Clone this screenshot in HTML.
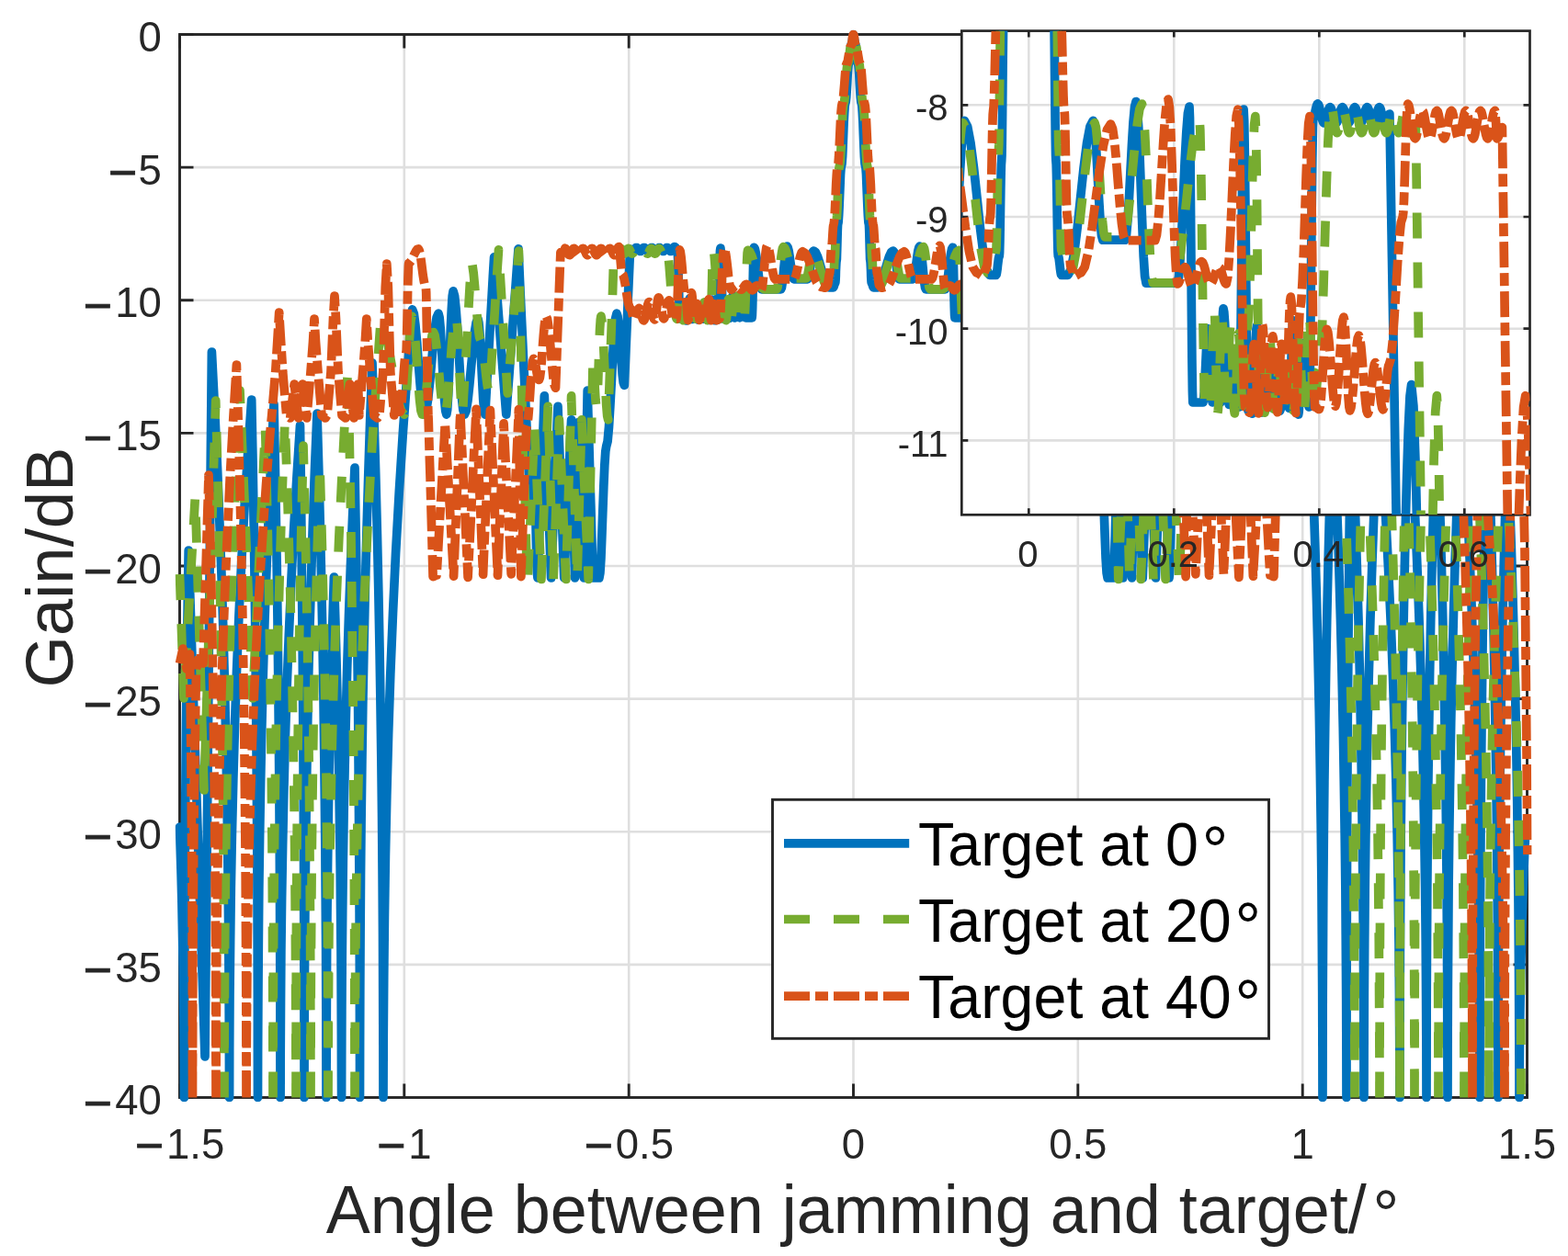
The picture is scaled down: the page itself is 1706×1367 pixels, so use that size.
<!DOCTYPE html>
<html><head><meta charset="utf-8"><title>Gain plot</title>
<style>html,body{margin:0;padding:0;background:#fff;}svg{display:block;}</style>
</head><body>
<svg width="1706" height="1367" viewBox="0 0 1706 1367">
<rect width="1706" height="1367" fill="#fff"/>
<defs>
<clipPath id="cm"><rect x="190.5" y="32.5" width="1476.0" height="1167.0"/></clipPath>
<clipPath id="ci"><rect x="1046.3" y="33.6" width="618.2" height="526.6999999999999"/></clipPath>
</defs>
<path d="M439.8 37.5V1194.5M684.2 37.5V1194.5M928.5 37.5V1194.5M1172.8 37.5V1194.5M1417.2 37.5V1194.5M195.5 182.1H1661.5M195.5 326.8H1661.5M195.5 471.4H1661.5M195.5 616.0H1661.5M195.5 760.6H1661.5M195.5 905.2H1661.5M195.5 1049.9H1661.5" stroke="#dfdfdf" stroke-width="2.6" fill="none"/>
<path d="M195.5 1194.5v-15M195.5 37.5v15M439.8 1194.5v-15M439.8 37.5v15M684.2 1194.5v-15M684.2 37.5v15M928.5 1194.5v-15M928.5 37.5v15M1172.8 1194.5v-15M1172.8 37.5v15M1417.2 1194.5v-15M1417.2 37.5v15M1661.5 1194.5v-15M1661.5 37.5v15M195.5 37.5h15M1661.5 37.5h-15M195.5 182.1h15M1661.5 182.1h-15M195.5 326.8h15M1661.5 326.8h-15M195.5 471.4h15M1661.5 471.4h-15M195.5 616.0h15M1661.5 616.0h-15M195.5 760.6h15M1661.5 760.6h-15M195.5 905.2h15M1661.5 905.2h-15M195.5 1049.9h15M1661.5 1049.9h-15M195.5 1194.5h15M1661.5 1194.5h-15" stroke="#262626" stroke-width="2.9" fill="none"/>
<rect x="195.5" y="37.5" width="1466.0" height="1157.0" stroke="#262626" stroke-width="2.9" fill="none"/>
<g font-family="Liberation Sans, Arial, Helvetica, sans-serif" font-size="45.5" fill="#262626">
<text x="175.8" y="56.1" text-anchor="end">0</text>
<text x="175.8" y="200.7" text-anchor="end"><tspan font-size="53.5" dy="5.4" stroke="#262626" stroke-width="0.9">−</tspan><tspan dx="1.5" dy="-5.4">5</tspan></text>
<text x="175.8" y="345.4" text-anchor="end"><tspan font-size="53.5" dy="5.4" stroke="#262626" stroke-width="0.9">−</tspan><tspan dx="3.5" dy="-5.4">10</tspan></text>
<text x="175.8" y="490.0" text-anchor="end"><tspan font-size="53.5" dy="5.4" stroke="#262626" stroke-width="0.9">−</tspan><tspan dx="3.5" dy="-5.4">15</tspan></text>
<text x="175.8" y="634.6" text-anchor="end"><tspan font-size="53.5" dy="5.4" stroke="#262626" stroke-width="0.9">−</tspan><tspan dx="3.5" dy="-5.4">20</tspan></text>
<text x="175.8" y="779.2" text-anchor="end"><tspan font-size="53.5" dy="5.4" stroke="#262626" stroke-width="0.9">−</tspan><tspan dx="3.5" dy="-5.4">25</tspan></text>
<text x="175.8" y="923.9" text-anchor="end"><tspan font-size="53.5" dy="5.4" stroke="#262626" stroke-width="0.9">−</tspan><tspan dx="3.5" dy="-5.4">30</tspan></text>
<text x="175.8" y="1068.5" text-anchor="end"><tspan font-size="53.5" dy="5.4" stroke="#262626" stroke-width="0.9">−</tspan><tspan dx="3.5" dy="-5.4">35</tspan></text>
<text x="175.8" y="1213.1" text-anchor="end"><tspan font-size="53.5" dy="5.4" stroke="#262626" stroke-width="0.9">−</tspan><tspan dx="3.5" dy="-5.4">40</tspan></text>
<text x="195.5" y="1260.5" text-anchor="middle"><tspan font-size="53.5" dy="4.7" stroke="#262626" stroke-width="0.9">−</tspan><tspan dx="3" dy="-4.7">1.5</tspan></text>
<text x="439.8" y="1260.5" text-anchor="middle"><tspan font-size="53.5" dy="4.7" stroke="#262626" stroke-width="0.9">−</tspan><tspan dx="3" dy="-4.7">1</tspan></text>
<text x="684.2" y="1260.5" text-anchor="middle"><tspan font-size="53.5" dy="4.7" stroke="#262626" stroke-width="0.9">−</tspan><tspan dx="3" dy="-4.7">0.5</tspan></text>
<text x="928.5" y="1260.5" text-anchor="middle">0</text>
<text x="1172.8" y="1260.5" text-anchor="middle">0.5</text>
<text x="1417.2" y="1260.5" text-anchor="middle">1</text>
<text x="1661.5" y="1260.5" text-anchor="middle">1.5</text>
</g>
<text transform="translate(354.8 1342.1) scale(0.9594 1)" font-family="Liberation Sans, Arial, Helvetica, sans-serif" font-size="75" fill="#262626">Angle between jamming and target/<tspan dx="7" dy="4.5">°</tspan></text>
<text transform="translate(78.8 617.5) rotate(-90)" text-anchor="middle" font-family="Liberation Sans, Arial, Helvetica, sans-serif" font-size="72.5" fill="#262626">Gain/dB</text>
<g clip-path="url(#cm)" fill="none">
<path d="M195.5 900.0 196.3 925.9 197.1 951.7 197.8 977.6 198.3 1003.4 198.8 1029.3 199.3 1055.1 199.6 1081.0 199.9 1106.9 200.1 1132.7 200.3 1158.6 200.4 1184.4 200.4 1194.5M200.5 1194.5 200.5 1167.3 200.6 1119.9 200.7 1072.6 200.9 1025.2 201.1 977.9 201.3 930.5 201.7 883.1 202.1 835.8 202.5 788.4 203.1 741.1 203.7 693.7 204.4 646.4 205.2 599.0 223.0 1150.0 230.4 383.0 233.6 445.8 236.5 508.6 239.0 571.4 241.3 634.1 243.2 696.9 244.8 759.7 246.1 822.5 247.2 885.3 248.0 948.1 248.7 1010.9 249.1 1073.6 249.4 1136.4 249.5 1194.5M249.6 1194.5 249.7 1143.9 250.0 1084.8 250.6 1025.7 251.3 966.6 252.4 907.6 253.8 848.5 255.5 789.4 257.5 730.4 259.9 671.3 262.7 612.2 266.0 553.1 269.6 494.1 273.7 435.0 274.9 494.1 275.9 553.1 276.8 612.2 277.6 671.3 278.2 730.4 278.8 789.4 279.3 848.5 279.7 907.6 280.0 966.6 280.2 1025.7 280.4 1084.8 280.4 1143.9 280.5 1194.5M280.5 1194.5 280.6 1144.6 280.9 1085.9 281.3 1027.1 281.8 968.4 282.6 909.7 283.6 851.0 284.8 792.3 286.3 733.6 288.0 674.9 290.1 616.1 292.4 557.4 295.0 498.7 298.0 440.0 299.2 498.7 300.2 557.4 301.2 616.1 302.0 674.9 302.7 733.6 303.3 792.3 303.8 851.0 304.2 909.7 304.5 968.4 304.7 1027.1 304.9 1085.9 304.9 1144.6 305.0 1194.5M305.1 1194.5 305.2 1147.9 305.5 1090.8 305.9 1033.7 306.6 976.6 307.6 919.6 308.8 862.5 310.3 805.4 312.1 748.4 314.3 691.3 316.8 634.2 319.6 577.1 322.9 520.1 326.5 463.0 327.3 520.1 327.9 577.1 328.5 634.2 329.1 691.3 329.5 748.4 329.9 805.4 330.2 862.5 330.5 919.6 330.7 976.6 330.8 1033.7 330.9 1090.8 331.0 1147.9 331.0 1194.5M331.0 1194.5 331.1 1146.0 331.3 1088.0 331.6 1030.0 332.1 972.0 332.7 914.0 333.5 856.0 334.5 798.0 335.6 740.0 337.0 682.0 338.7 624.0 340.5 566.0 342.6 508.0 345.0 450.0 346.7 508.0 348.2 566.0 349.5 624.0 350.7 682.0 351.7 740.0 352.5 798.0 353.2 856.0 353.8 914.0 354.2 972.0 354.6 1030.0 354.8 1088.0 354.9 1146.0 355.0 1194.5M355.0 1194.5 355.1 1171.4 355.2 1126.1 355.4 1080.9 355.6 1035.6 356.0 990.3 356.5 945.0 357.1 899.7 357.8 854.4 358.6 809.1 359.6 763.9 360.7 718.6 362.0 673.3 363.4 628.0 364.8 673.3 366.0 718.6 367.1 763.9 368.1 809.1 368.9 854.4 369.6 899.7 370.2 945.0 370.6 990.3 371.0 1035.6 371.2 1080.9 371.4 1126.1 371.5 1171.4 371.6 1194.5M371.6 1194.5 371.7 1154.4 371.9 1100.6 372.2 1046.9 372.7 993.1 373.3 939.3 374.1 885.5 375.2 831.7 376.4 777.9 377.8 724.1 379.5 670.4 381.4 616.6 383.6 562.8 386.0 509.0 386.9 562.8 387.8 616.6 388.5 670.4 389.1 724.1 389.7 777.9 390.1 831.7 390.5 885.5 390.8 939.3 391.1 993.1 391.3 1046.9 391.4 1100.6 391.5 1154.4 391.5 1194.5M391.5 1194.5 391.6 1138.1 391.8 1076.2 392.1 1014.3 392.5 952.4 393.1 890.4 393.9 828.5 394.8 766.6 396.0 704.6 397.3 642.7 398.9 580.8 400.7 518.9 402.7 456.9 405.0 395.0 407.0 456.9 408.8 518.9 410.4 580.8 411.8 642.7 413.0 704.6 414.0 766.6 414.9 828.5 415.6 890.4 416.1 952.4 416.5 1014.3 416.7 1076.2 416.9 1138.1 417.0 1194.5M417.0 1194.5 417.2 1129.9 417.7 1063.8 418.4 997.7 419.4 931.6 420.8 865.6 422.6 799.5 424.8 733.4 427.5 667.4 430.6 601.3 434.3 535.2 438.5 469.1 443.3 403.1 448.6 336.9 450.3 341.2 451.9 353.6 453.6 372.1 455.2 394.0 456.9 415.9 458.5 434.4 460.2 446.8 461.8 451.1 463.7 446.9 465.6 435.0 467.5 417.2 469.4 396.2 471.3 375.1 473.2 357.3 475.1 345.4 477.0 341.2 478.1 345.4 479.2 357.3 480.3 375.1 481.4 396.2 482.5 417.2 483.6 435.0 484.7 446.9 485.8 451.1 486.7 446.0 487.6 431.5 488.5 409.7 489.4 384.0 490.3 358.3 491.3 336.6 492.2 322.0 493.1 316.9 494.6 322.0 496.1 336.6 497.7 358.3 499.2 384.0 500.7 409.7 502.3 431.5 503.8 446.0 505.3 451.1 507.1 447.2 509.0 435.9 510.8 419.0 512.6 399.1 514.5 379.1 516.3 362.2 518.1 351.0 520.0 347.0 520.9 351.0 521.9 362.2 522.9 379.1 523.9 399.1 524.9 419.0 525.8 435.9 526.8 447.2 527.8 451.1 529.0 429.7 530.2 408.3 531.5 386.9 532.7 365.5 533.9 344.1 535.1 322.7 536.3 301.3 537.6 279.9 539.2 301.3 540.9 322.7 542.5 344.1 544.2 365.5 545.8 386.9 547.5 408.3 549.1 429.7 550.8 451.1 552.4 428.6 554.1 406.1 555.7 383.6 557.4 361.0 559.0 338.5 560.7 316.0 562.3 293.5 564.0 270.9 565.5 305.0 567.1 339.1 568.7 373.2 570.3 407.3 571.9 441.4 573.5 475.5 575.1 509.6 576.7 543.7 577.1 541.5 577.6 535.2 578.1 525.8 578.6 514.8 579.1 503.7 579.6 494.3 580.1 488.0 580.6 485.8 581.1 491.3 581.7 506.8 582.2 530.0 582.8 557.4 583.3 584.8 583.9 608.0 584.4 623.6 585.0 629.0 585.9 604.2 586.8 579.5 587.7 554.7 588.6 529.9 589.5 505.2 590.5 480.4 591.4 455.6 592.3 430.9 593.2 455.6 594.1 480.4 595.0 505.2 596.0 529.9 596.9 554.7 597.8 579.5 598.7 604.2 599.6 629.0 600.5 605.7 601.5 582.4 602.4 559.1 603.3 535.7 604.2 512.4 605.1 489.1 606.0 465.8 607.0 442.4 607.8 465.8 608.7 489.1 609.5 512.4 610.4 535.7 611.2 559.1 612.1 582.4 612.9 605.7 613.8 629.0 614.8 607.5 615.8 586.0 616.7 564.5 617.7 543.0 618.7 521.5 619.7 499.9 620.6 478.4 621.6 456.9 622.1 478.4 622.6 499.9 623.1 521.5 623.6 543.0 624.1 564.5 624.5 586.0 625.0 607.5 625.5 629.0 626.0 607.9 626.4 586.7 626.8 565.6 627.2 544.4 627.7 523.3 628.1 502.1 628.5 481.0 628.9 459.8 629.7 481.0 630.5 502.1 631.3 523.3 632.1 544.4 632.9 565.6 633.7 586.7 634.5 607.9 635.3 629.0 635.8 603.5 636.3 578.0 636.8 552.5 637.3 527.1 637.7 501.6 638.2 476.1 638.7 450.6 639.2 425.1 639.9 450.6 640.7 476.1 641.4 501.6 642.1 527.1 642.9 552.5 643.6 578.0 644.3 603.5 645.1 629.0 645.9 629.0 646.8 629.0 647.6 629.0 648.5 629.0 649.3 629.0 650.2 629.0 651.1 629.0 651.9 629.0 652.9 623.6 653.9 608.0 654.8 584.8 655.8 557.4 656.8 530.0 657.8 506.8 658.8 491.3 659.7 485.8 661.1 480.3 662.5 464.7 663.9 441.2 665.4 413.5 666.8 385.9 668.2 362.4 669.6 346.7 671.0 341.2 672.0 344.2 673.0 352.6 674.1 365.3 675.1 380.3 676.2 395.2 677.2 407.9 678.2 416.3 679.3 419.3 680.1 400.8 680.9 382.3 681.7 363.8 682.5 345.3 683.2 326.8 684.0 308.2 684.8 289.7 685.6 271.2 686.1 271.3 686.5 271.6 686.9 271.9 687.3 272.4 687.8 272.8 688.2 273.2 688.6 273.4 689.1 273.5 689.5 273.4 689.9 272.9 690.3 272.3 690.8 271.5 691.2 270.7 691.6 270.1 692.0 269.6 692.5 269.5 693.0 269.6 693.5 270.1 694.0 270.7 694.5 271.5 695.1 272.3 695.6 272.9 696.1 273.4 696.6 273.5 697.1 273.4 697.7 272.9 698.2 272.3 698.7 271.5 699.2 270.7 699.7 270.1 700.3 269.6 700.8 269.5 701.3 269.6 701.8 270.1 702.3 270.7 702.9 271.5 703.4 272.3 703.9 272.9 704.4 273.4 704.9 273.5 705.5 273.4 706.0 272.9 706.5 272.3 707.0 271.5 707.5 270.7 708.0 270.1 708.6 269.6 709.1 269.5 709.6 269.6 710.1 270.1 710.6 270.7 711.2 271.5 711.7 272.3 712.2 272.9 712.7 273.4 713.2 273.5 713.8 273.4 714.3 272.9 714.8 272.3 715.3 271.5 715.8 270.7 716.4 270.1 716.9 269.6 717.4 269.5 717.9 269.6 718.4 270.1 719.0 270.7 719.5 271.5 720.0 272.3 720.5 272.9 721.0 273.4 721.5 273.5 722.1 273.4 722.6 272.9 723.1 272.3 723.6 271.5 724.1 270.7 724.7 270.1 725.2 269.6 725.7 269.5 726.2 269.6 726.7 270.1 727.3 270.7 727.8 271.5 728.3 272.3 728.8 272.9 729.3 273.4 729.9 273.5 730.4 273.3 730.9 272.8 731.4 272.0 731.9 271.1 732.5 270.1 733.0 269.3 733.5 268.8 734.0 268.6 734.4 268.7 734.7 269.1 735.1 269.6 735.5 270.2 735.8 270.8 736.2 271.3 736.6 271.7 736.9 271.8 737.3 274.7 737.7 282.8 738.0 295.0 738.4 309.4 738.8 323.8 739.1 336.0 739.5 344.1 739.9 347.0 740.5 346.4 741.1 344.6 741.6 341.9 742.2 338.7 742.8 335.6 743.4 332.9 744.0 331.1 744.6 330.5 744.9 331.2 745.2 333.2 745.5 336.2 745.8 339.7 746.1 343.3 746.4 346.2 746.7 348.2 747.0 349.0 747.5 348.0 747.9 345.4 748.3 341.5 748.8 336.8 749.2 332.2 749.7 328.2 750.1 325.6 750.5 324.6 750.9 325.5 751.2 328.0 751.5 331.7 751.9 336.0 752.2 340.3 752.5 344.0 752.9 346.5 753.2 347.4 753.6 347.0 754.0 346.0 754.3 344.6 754.7 342.8 755.1 341.1 755.4 339.6 755.8 338.6 756.2 338.3 756.6 338.7 757.0 339.7 757.4 341.3 757.8 343.2 758.2 345.0 758.7 346.6 759.1 347.7 759.5 348.0 759.9 347.6 760.4 346.5 760.8 344.9 761.2 343.0 761.6 341.0 762.1 339.4 762.5 338.3 762.9 337.9 763.2 338.3 763.5 339.3 763.9 340.8 764.2 342.6 764.5 344.3 764.8 345.8 765.1 346.8 765.4 347.2 765.8 346.6 766.2 344.9 766.6 342.5 767.0 339.5 767.4 336.6 767.8 334.1 768.2 332.4 768.6 331.8 769.0 332.5 769.4 334.3 769.8 336.9 770.1 340.1 770.5 343.3 770.9 346.0 771.3 347.8 771.6 348.4 772.1 347.6 772.5 345.2 772.9 341.5 773.3 337.2 773.7 333.0 774.1 329.3 774.6 326.9 775.0 326.1 775.4 326.9 775.7 329.4 776.1 333.1 776.5 337.4 776.9 341.7 777.2 345.4 777.6 347.8 778.0 348.7 778.4 348.7 778.7 348.6 779.1 348.5 779.5 348.3 779.8 348.1 780.2 348.0 780.6 347.9 780.9 347.9 781.3 344.9 781.7 336.5 782.0 323.8 782.4 309.0 782.8 294.1 783.1 281.5 783.5 273.0 783.9 270.1 784.2 273.0 784.6 281.3 785.0 293.8 785.3 308.5 785.7 323.2 786.1 335.7 786.4 344.1 786.8 347.0 787.2 346.4 787.6 344.9 788.1 342.5 788.5 339.8 788.9 337.0 789.4 334.7 789.8 333.1 790.2 332.5 790.6 333.1 791.1 334.6 791.5 336.8 791.9 339.5 792.3 342.1 792.8 344.4 793.2 345.9 793.6 346.4 794.1 345.5 794.6 342.8 795.1 338.7 795.6 334.0 796.1 329.2 796.6 325.2 797.0 322.5 797.5 321.5 797.8 322.5 798.0 325.1 798.3 329.0 798.5 333.7 798.8 338.3 799.0 342.3 799.2 344.9 799.5 345.8 799.8 345.2 800.1 343.5 800.4 340.8 800.7 337.7 801.0 334.6 801.3 332.0 801.6 330.3 801.9 329.6 802.3 330.3 802.7 332.0 803.0 334.6 803.4 337.7 803.8 340.8 804.1 343.5 804.5 345.2 804.9 345.8 805.2 345.1 805.6 343.0 806.0 339.9 806.3 336.3 806.7 332.6 807.1 329.5 807.4 327.5 807.8 326.8 808.2 327.5 808.7 329.5 809.1 332.6 809.5 336.3 809.9 339.9 810.4 343.0 810.8 345.1 811.2 345.8 812.1 345.8 812.9 345.8 813.8 345.8 814.6 345.8 815.5 345.8 816.4 345.8 817.2 345.8 818.1 345.8 818.4 342.9 818.7 334.6 819.0 322.2 819.2 307.6 819.5 292.9 819.8 280.5 820.1 272.2 820.4 269.3 821.4 271.0 822.4 276.0 823.5 283.4 824.5 292.1 825.5 300.9 826.5 308.3 827.5 313.2 828.5 315.0 831.1 315.0 833.7 315.0 836.4 315.0 839.0 315.0 841.6 315.0 844.3 315.0 846.9 315.0 849.5 315.0 850.4 313.2 851.2 308.1 852.1 300.5 852.9 291.5 853.8 282.5 854.6 274.9 855.5 269.8 856.3 268.0 857.2 269.4 858.2 273.2 859.1 279.1 860.0 285.9 861.0 292.8 861.9 298.6 862.8 302.5 863.7 303.8 865.6 303.8 867.5 303.8 869.3 303.8 871.2 303.8 873.1 303.8 875.0 303.8 876.8 303.8 878.7 303.8 879.5 302.6 880.3 299.3 881.1 294.3 882.0 288.4 882.8 282.5 883.6 277.5 884.4 274.1 885.2 273.0 887.3 274.5 889.4 278.8 891.5 285.3 893.7 292.9 895.8 300.5 897.9 307.0 900.0 311.3 902.1 312.9 902.7 312.9 903.2 312.9 903.8 312.9 904.3 312.9 904.9 312.9 905.4 312.9 906.0 312.9 906.5 312.9 906.8 312.7 907.1 312.1 907.3 311.3 907.6 310.4 907.9 309.5 908.2 308.7 908.4 308.1 908.7 307.9 908.9 307.0 909.1 304.3 909.3 300.4 909.4 295.7 909.6 291.0 909.8 287.0 910.0 284.3 910.2 283.4 910.4 281.9 910.5 277.6 910.7 271.3 910.9 263.8 911.1 256.4 911.3 250.0 911.5 245.8 911.6 244.3 912.1 241.9 912.6 235.0 913.1 224.7 913.6 212.5 914.1 200.3 914.5 190.0 915.0 183.1 915.5 180.7 916.0 178.1 916.6 170.7 917.1 159.7 917.6 146.7 918.1 133.7 918.7 122.7 919.2 115.3 919.7 112.7 920.2 111.0 920.7 106.3 921.2 99.2 921.7 90.9 922.1 82.5 922.6 75.4 923.1 70.7 923.6 69.0 924.0 68.2 924.3 65.9 924.7 62.4 925.1 58.3 925.4 54.2 925.8 50.8 926.2 48.4 926.5 47.6 926.8 47.2 927.0 46.1 927.3 44.5 927.5 42.6 927.8 40.6 928.0 39.0 928.3 37.9 928.5 37.5 928.7 37.9 929.0 39.0 929.2 40.6 929.5 42.6 929.7 44.5 930.0 46.1 930.2 47.2 930.5 47.6 930.8 48.4 931.2 50.8 931.6 54.2 931.9 58.3 932.3 62.4 932.7 65.9 933.0 68.2 933.4 69.0 933.9 70.7 934.4 75.4 934.9 82.5 935.3 90.9 935.8 99.2 936.3 106.3 936.8 111.0 937.3 112.7 937.8 115.3 938.3 122.7 938.9 133.7 939.4 146.7 939.9 159.7 940.4 170.7 941.0 178.1 941.5 180.7 942.0 183.1 942.5 190.0 942.9 200.3 943.4 212.5 943.9 224.7 944.4 235.0 944.9 241.9 945.4 244.3 945.5 245.8 945.7 250.0 945.9 256.4 946.1 263.8 946.3 271.3 946.5 277.6 946.6 281.9 946.8 283.4 947.0 284.3 947.2 287.0 947.4 291.0 947.6 295.7 947.7 300.4 947.9 304.3 948.1 307.0 948.3 307.9 948.6 308.1 948.8 308.7 949.1 309.5 949.4 310.4 949.7 311.3 949.9 312.1 950.2 312.7 950.5 312.9 951.0 312.9 951.6 312.9 952.1 312.9 952.7 312.9 953.2 312.9 953.8 312.9 954.3 312.9 954.9 312.9 957.0 311.3 959.1 307.0 961.2 300.5 963.3 292.9 965.5 285.3 967.6 278.8 969.7 274.5 971.8 273.0 972.6 274.1 973.4 277.5 974.2 282.5 975.0 288.4 975.9 294.3 976.7 299.3 977.5 302.6 978.3 303.8 980.2 303.8 982.0 303.8 983.9 303.8 985.8 303.8 987.7 303.8 989.5 303.8 991.4 303.8 993.3 303.8 994.2 302.5 995.1 298.6 996.0 292.8 997.0 285.9 997.9 279.1 998.8 273.2 999.8 269.4 1000.7 268.0 1001.5 269.8 1002.4 274.9 1003.2 282.5 1004.1 291.5 1004.9 300.5 1005.8 308.1 1006.6 313.2 1007.5 315.0 1010.1 315.0 1012.7 315.0 1015.4 315.0 1018.0 315.0 1020.6 315.0 1023.3 315.0 1025.9 315.0 1028.5 315.0 1029.5 313.2 1030.5 308.3 1031.5 300.9 1032.5 292.1 1033.5 283.4 1034.6 276.0 1035.6 271.0 1036.6 269.3 1036.9 272.2 1037.2 280.5 1037.5 292.9 1037.8 307.6 1038.0 322.2 1038.3 334.6 1038.6 342.9 1038.9 345.8 1039.8 345.8 1040.6 345.8 1041.5 345.8 1042.4 345.8 1043.2 345.8 1044.1 345.8 1044.9 345.8 1045.8 345.8 1046.2 345.1 1046.6 343.0 1047.1 339.9 1047.5 336.3 1047.9 332.6 1048.3 329.5 1048.8 327.5 1049.2 326.8 1049.6 327.5 1049.9 329.5 1050.3 332.6 1050.7 336.3 1051.0 339.9 1051.4 343.0 1051.8 345.1 1052.1 345.8 1052.5 345.2 1052.9 343.5 1053.2 340.8 1053.6 337.7 1054.0 334.6 1054.3 332.0 1054.7 330.3 1055.1 329.6 1055.4 330.3 1055.7 332.0 1056.0 334.6 1056.3 337.7 1056.6 340.8 1056.9 343.5 1057.2 345.2 1057.5 345.8 1057.8 344.9 1058.0 342.3 1058.2 338.3 1058.5 333.7 1058.7 329.0 1059.0 325.1 1059.2 322.5 1059.5 321.5 1060.0 322.5 1060.4 325.2 1060.9 329.2 1061.4 334.0 1061.9 338.7 1062.4 342.8 1062.9 345.5 1063.4 346.4 1063.8 345.9 1064.2 344.4 1064.7 342.1 1065.1 339.5 1065.5 336.8 1065.9 334.6 1066.4 333.1 1066.8 332.5 1067.2 333.1 1067.6 334.7 1068.1 337.0 1068.5 339.8 1068.9 342.5 1069.4 344.9 1069.8 346.4 1070.2 347.0 1070.6 344.1 1070.9 335.7 1071.3 323.2 1071.7 308.5 1072.0 293.8 1072.4 281.3 1072.8 273.0 1073.1 270.1 1073.5 273.0 1073.9 281.5 1074.2 294.1 1074.6 309.0 1075.0 323.8 1075.3 336.5 1075.7 344.9 1076.1 347.9 1076.4 347.9 1076.8 348.0 1077.2 348.1 1077.5 348.3 1077.9 348.5 1078.3 348.6 1078.6 348.7 1079.0 348.7 1079.4 347.8 1079.8 345.4 1080.1 341.7 1080.5 337.4 1080.9 333.1 1081.3 329.4 1081.6 326.9 1082.0 326.1 1082.4 326.9 1082.9 329.3 1083.3 333.0 1083.7 337.2 1084.1 341.5 1084.5 345.2 1084.9 347.6 1085.4 348.4 1085.7 347.8 1086.1 346.0 1086.5 343.3 1086.9 340.1 1087.2 336.9 1087.6 334.3 1088.0 332.5 1088.4 331.8 1088.8 332.4 1089.2 334.1 1089.6 336.6 1090.0 339.5 1090.4 342.5 1090.8 344.9 1091.2 346.6 1091.6 347.2 1091.9 346.8 1092.2 345.8 1092.5 344.3 1092.8 342.6 1093.1 340.8 1093.5 339.3 1093.8 338.3 1094.1 337.9 1094.5 338.3 1094.9 339.4 1095.4 341.0 1095.8 343.0 1096.2 344.9 1096.6 346.5 1097.1 347.6 1097.5 348.0 1097.9 347.7 1098.3 346.6 1098.8 345.0 1099.2 343.2 1099.6 341.3 1100.0 339.7 1100.4 338.7 1100.8 338.3 1101.2 338.6 1101.6 339.6 1101.9 341.1 1102.3 342.8 1102.7 344.6 1103.0 346.0 1103.4 347.0 1103.8 347.4 1104.1 346.5 1104.5 344.0 1104.8 340.3 1105.1 336.0 1105.5 331.7 1105.8 328.0 1106.1 325.5 1106.5 324.6 1106.9 325.6 1107.3 328.2 1107.8 332.2 1108.2 336.8 1108.7 341.5 1109.1 345.4 1109.5 348.0 1110.0 349.0 1110.3 348.2 1110.6 346.2 1110.9 343.3 1111.2 339.7 1111.5 336.2 1111.8 333.2 1112.1 331.2 1112.4 330.5 1113.0 331.1 1113.6 332.9 1114.2 335.6 1114.8 338.7 1115.4 341.9 1115.9 344.6 1116.5 346.4 1117.1 347.0 1117.5 344.1 1117.9 336.0 1118.2 323.8 1118.6 309.4 1119.0 295.0 1119.3 282.8 1119.7 274.7 1120.1 271.8 1120.4 271.7 1120.8 271.3 1121.2 270.8 1121.5 270.2 1121.9 269.6 1122.3 269.1 1122.6 268.7 1123.0 268.6 1123.5 268.8 1124.0 269.3 1124.5 270.1 1125.1 271.1 1125.6 272.0 1126.1 272.8 1126.6 273.3 1127.1 273.5 1127.7 273.4 1128.2 272.9 1128.7 272.3 1129.2 271.5 1129.7 270.7 1130.3 270.1 1130.8 269.6 1131.3 269.5 1131.8 269.6 1132.3 270.1 1132.9 270.7 1133.4 271.5 1133.9 272.3 1134.4 272.9 1134.9 273.4 1135.5 273.5 1136.0 273.4 1136.5 272.9 1137.0 272.3 1137.5 271.5 1138.0 270.7 1138.6 270.1 1139.1 269.6 1139.6 269.5 1140.1 269.6 1140.6 270.1 1141.2 270.7 1141.7 271.5 1142.2 272.3 1142.7 272.9 1143.2 273.4 1143.8 273.5 1144.3 273.4 1144.8 272.9 1145.3 272.3 1145.8 271.5 1146.4 270.7 1146.9 270.1 1147.4 269.6 1147.9 269.5 1148.4 269.6 1149.0 270.1 1149.5 270.7 1150.0 271.5 1150.5 272.3 1151.0 272.9 1151.5 273.4 1152.1 273.5 1152.6 273.4 1153.1 272.9 1153.6 272.3 1154.1 271.5 1154.7 270.7 1155.2 270.1 1155.7 269.6 1156.2 269.5 1156.7 269.6 1157.3 270.1 1157.8 270.7 1158.3 271.5 1158.8 272.3 1159.3 272.9 1159.9 273.4 1160.4 273.5 1160.9 273.4 1161.4 272.9 1161.9 272.3 1162.5 271.5 1163.0 270.7 1163.5 270.1 1164.0 269.6 1164.5 269.5 1165.0 269.6 1165.4 270.1 1165.8 270.7 1166.2 271.5 1166.7 272.3 1167.1 272.9 1167.5 273.4 1167.9 273.5 1168.4 273.4 1168.8 273.2 1169.2 272.8 1169.7 272.4 1170.1 271.9 1170.5 271.6 1170.9 271.3 1171.4 271.2 1172.2 289.7 1173.0 308.2 1173.8 326.8 1174.5 345.3 1175.3 363.8 1176.1 382.3 1176.9 400.8 1177.7 419.3 1178.8 416.3 1179.8 407.9 1180.8 395.2 1181.9 380.3 1182.9 365.3 1184.0 352.6 1185.0 344.2 1186.0 341.2 1187.4 346.7 1188.8 362.4 1190.2 385.9 1191.6 413.5 1193.1 441.2 1194.5 464.7 1195.9 480.3 1197.3 485.8 1198.2 491.3 1199.2 506.8 1200.2 530.0 1201.2 557.4 1202.2 584.8 1203.1 608.0 1204.1 623.6 1205.1 629.0 1205.9 629.0 1206.8 629.0 1207.7 629.0 1208.5 629.0 1209.4 629.0 1210.2 629.0 1211.1 629.0 1211.9 629.0 1212.7 603.5 1213.4 578.0 1214.1 552.5 1214.9 527.1 1215.6 501.6 1216.3 476.1 1217.1 450.6 1217.8 425.1 1218.3 450.6 1218.8 476.1 1219.3 501.6 1219.7 527.1 1220.2 552.5 1220.7 578.0 1221.2 603.5 1221.7 629.0 1222.5 607.9 1223.3 586.7 1224.1 565.6 1224.9 544.4 1225.7 523.3 1226.5 502.1 1227.3 481.0 1228.1 459.8 1228.5 481.0 1228.9 502.1 1229.3 523.3 1229.8 544.4 1230.2 565.6 1230.6 586.7 1231.0 607.9 1231.5 629.0 1232.0 607.5 1232.5 586.0 1232.9 564.5 1233.4 543.0 1233.9 521.5 1234.4 499.9 1234.9 478.4 1235.4 456.9 1236.4 478.4 1237.3 499.9 1238.3 521.5 1239.3 543.0 1240.3 564.5 1241.2 586.0 1242.2 607.5 1243.2 629.0 1244.1 605.7 1244.9 582.4 1245.8 559.1 1246.6 535.7 1247.5 512.4 1248.3 489.1 1249.2 465.8 1250.0 442.4 1251.0 465.8 1251.9 489.1 1252.8 512.4 1253.7 535.7 1254.6 559.1 1255.5 582.4 1256.5 605.7 1257.4 629.0 1258.3 604.2 1259.2 579.5 1260.1 554.7 1261.0 529.9 1262.0 505.2 1262.9 480.4 1263.8 455.6 1264.7 430.9 1265.6 455.6 1266.5 480.4 1267.5 505.2 1268.4 529.9 1269.3 554.7 1270.2 579.5 1271.1 604.2 1272.0 629.0 1272.6 623.6 1273.1 608.0 1273.7 584.8 1274.2 557.4 1274.8 530.0 1275.3 506.8 1275.9 491.3 1276.4 485.8 1276.9 488.0 1277.4 494.3 1277.9 503.7 1278.4 514.8 1278.9 525.8 1279.4 535.2 1279.9 541.5 1280.3 543.7 1281.9 509.6 1283.5 475.5 1285.1 441.4 1286.7 407.3 1288.3 373.2 1289.9 339.1 1291.5 305.0 1293.0 270.9 1294.7 293.5 1296.3 316.0 1298.0 338.5 1299.6 361.0 1301.3 383.6 1302.9 406.1 1304.6 428.6 1306.2 451.1 1307.9 429.7 1309.5 408.3 1311.2 386.9 1312.8 365.5 1314.5 344.1 1316.1 322.7 1317.8 301.3 1319.4 279.9 1320.7 301.3 1321.9 322.7 1323.1 344.1 1324.3 365.5 1325.5 386.9 1326.8 408.3 1328.0 429.7 1329.2 451.1 1330.2 447.2 1331.2 435.9 1332.1 419.0 1333.1 399.1 1334.1 379.1 1335.1 362.2 1336.1 351.0 1337.0 347.0 1338.9 351.0 1340.7 362.2 1342.5 379.1 1344.4 399.1 1346.2 419.0 1348.0 435.9 1349.9 447.2 1351.7 451.1 1353.2 446.0 1354.7 431.5 1356.3 409.7 1357.8 384.0 1359.3 358.3 1360.9 336.6 1362.4 322.0 1363.9 316.9 1364.8 322.0 1365.7 336.6 1366.7 358.3 1367.6 384.0 1368.5 409.7 1369.4 431.5 1370.3 446.0 1371.2 451.1 1372.3 446.9 1373.4 435.0 1374.5 417.2 1375.6 396.2 1376.7 375.1 1377.8 357.3 1378.9 345.4 1380.0 341.2 1381.9 345.4 1383.8 357.3 1385.7 375.1 1387.6 396.2 1389.5 417.2 1391.4 435.0 1393.3 446.9 1395.2 451.1 1396.8 446.8 1398.5 434.4 1400.1 415.9 1401.8 394.0 1403.4 372.1 1405.1 353.6 1406.7 341.2 1408.4 336.9 1418.0 430.0 1424.0 410.0 1426.5 470.9 1428.8 531.7 1430.8 592.6 1432.5 653.4 1434.0 714.3 1435.3 775.1 1436.3 836.0 1437.2 896.9 1437.9 957.7 1438.3 1018.6 1438.7 1079.4 1438.9 1140.3 1439.0 1194.5M1439.0 1194.5 1439.1 1144.6 1439.2 1085.9 1439.5 1027.1 1439.8 968.4 1440.3 909.7 1440.9 851.0 1441.7 792.3 1442.6 733.6 1443.7 674.9 1445.0 616.1 1446.5 557.4 1448.1 498.7 1450.0 440.0 1452.5 498.7 1454.8 557.4 1456.8 616.1 1458.5 674.9 1460.0 733.6 1461.3 792.3 1462.3 851.0 1463.2 909.7 1463.9 968.4 1464.3 1027.1 1464.7 1085.9 1464.9 1144.6 1465.0 1194.5M1465.0 1194.5 1465.0 1144.6 1465.1 1085.9 1465.2 1027.1 1465.4 968.4 1465.6 909.7 1465.9 851.0 1466.2 792.3 1466.7 733.6 1467.2 674.9 1467.7 616.1 1468.4 557.4 1469.2 498.7 1470.0 440.0 1472.4 498.7 1474.5 557.4 1476.3 616.1 1478.0 674.9 1479.4 733.6 1480.5 792.3 1481.5 851.0 1482.3 909.7 1482.9 968.4 1483.4 1027.1 1483.7 1085.9 1483.9 1144.6 1484.0 1194.5M1484.0 1194.5 1484.1 1144.6 1484.3 1085.9 1484.7 1027.1 1485.2 968.4 1485.9 909.7 1486.8 851.0 1487.9 792.3 1489.3 733.6 1490.9 674.9 1492.8 616.1 1494.9 557.4 1497.3 498.7 1500.0 440.0 1503.9 498.7 1507.4 557.4 1510.4 616.1 1513.1 674.9 1515.4 733.6 1517.3 792.3 1518.9 851.0 1520.2 909.7 1521.2 968.4 1522.0 1027.1 1522.5 1085.9 1522.8 1144.6 1522.9 1194.5M1523.0 1194.5 1523.1 1143.1 1523.2 1083.7 1523.4 1024.3 1523.8 964.9 1524.2 905.4 1524.8 846.0 1525.5 786.6 1526.3 727.1 1527.3 667.7 1528.5 608.3 1529.8 548.9 1531.3 489.4 1533.0 430.0 1536.2 489.4 1539.1 548.9 1541.6 608.3 1543.8 667.7 1545.7 727.1 1547.3 786.6 1548.6 846.0 1549.7 905.4 1550.6 964.9 1551.2 1024.3 1551.6 1083.7 1551.9 1143.1 1552.0 1194.5M1552.0 1194.5 1552.1 1144.6 1552.2 1085.9 1552.5 1027.1 1552.8 968.4 1553.3 909.7 1553.9 851.0 1554.7 792.3 1555.6 733.6 1556.7 674.9 1558.0 616.1 1559.5 557.4 1561.1 498.7 1563.0 440.0 1565.0 498.7 1566.8 557.4 1568.4 616.1 1569.8 674.9 1571.0 733.6 1572.0 792.3 1572.9 851.0 1573.6 909.7 1574.1 968.4 1574.5 1027.1 1574.7 1085.9 1574.9 1144.6 1575.0 1194.5M1575.0 1194.5 1575.1 1143.1 1575.3 1083.7 1575.7 1024.3 1576.1 964.9 1576.8 905.4 1577.7 846.0 1578.7 786.6 1580.0 727.1 1581.5 667.7 1583.2 608.3 1585.2 548.9 1587.5 489.4 1590.0 430.0 1593.4 489.4 1596.4 548.9 1599.1 608.3 1601.4 667.7 1603.4 727.1 1605.1 786.6 1606.5 846.0 1607.6 905.4 1608.5 964.9 1609.1 1024.3 1609.6 1083.7 1609.8 1143.1 1610.0 1194.5M1610.0 1194.5 1610.1 1144.6 1610.2 1085.9 1610.3 1027.1 1610.6 968.4 1611.0 909.7 1611.4 851.0 1612.0 792.3 1612.7 733.6 1613.4 674.9 1614.4 616.1 1615.4 557.4 1616.6 498.7 1618.0 440.0 1620.0 498.7 1621.8 557.4 1623.4 616.1 1624.8 674.9 1626.0 733.6 1627.0 792.3 1627.9 851.0 1628.6 909.7 1629.1 968.4 1629.5 1027.1 1629.7 1085.9 1629.9 1144.6 1630.0 1194.5M1630.0 1194.5 1630.1 1150.3 1630.2 1094.4 1630.4 1038.6 1630.8 982.7 1631.2 926.9 1631.8 871.0 1632.5 815.1 1633.3 759.3 1634.3 703.4 1635.5 647.6 1636.8 591.7 1638.3 535.9 1640.0 480.0 1642.2 535.9 1644.2 591.7 1645.9 647.6 1647.4 703.4 1648.7 759.3 1649.8 815.1 1650.7 871.0 1651.4 926.9 1652.0 982.7 1652.4 1038.6 1652.7 1094.4 1652.9 1150.3 1653.0 1194.5M1653.1 1194.5 1653.1 1184.4 1653.3 1158.6 1653.5 1132.7 1653.8 1106.9 1654.2 1081.0 1654.7 1055.1 1655.3 1029.3 1656.0 1003.4 1656.8 977.6 1657.8 951.7 1658.8 925.9 1660.0 900.0" stroke="#0072BD" stroke-width="9.7" stroke-linejoin="round" stroke-linecap="round"/>
<path d="M195.5 625.0 200.0 760.0 212.4 540.0 222.0 860.0 234.7 436.0 236.3 495.0 237.7 554.0 238.9 613.0 240.0 672.0 240.9 731.0 241.7 790.0 242.4 849.0 242.9 908.0 243.3 967.0 243.6 1026.0 243.8 1085.0 243.9 1144.0 244.0 1194.5M244.0 1194.5 244.1 1142.4 244.4 1082.6 244.7 1022.9 245.3 963.1 246.0 903.3 247.0 843.5 248.2 783.7 249.6 723.9 251.3 664.1 253.3 604.4 255.6 544.6 258.1 484.8 261.0 425.0 275.0 760.0 288.6 465.0 290.0 521.9 291.3 578.9 292.4 635.8 293.4 692.7 294.2 749.6 294.9 806.6 295.5 863.5 296.0 920.4 296.4 977.4 296.6 1034.3 296.8 1091.2 296.9 1148.1 297.0 1194.5M297.0 1194.5 297.1 1147.1 297.3 1089.7 297.6 1032.3 298.0 974.9 298.6 917.4 299.3 860.0 300.2 802.6 301.3 745.1 302.6 687.7 304.1 630.3 305.8 572.9 307.8 515.4 310.0 458.0 312.0 515.4 313.8 572.9 315.4 630.3 316.8 687.7 318.0 745.1 319.0 802.6 319.9 860.0 320.6 917.4 321.1 974.9 321.5 1032.3 321.7 1089.7 321.9 1147.1 322.0 1194.5M322.0 1194.5 322.1 1151.0 322.2 1095.5 322.3 1040.0 322.6 984.5 323.0 929.0 323.4 873.5 324.0 818.0 324.7 762.5 325.4 707.0 326.4 651.5 327.4 596.0 328.6 540.5 330.0 485.0 331.4 540.5 332.6 596.0 333.6 651.5 334.6 707.0 335.3 762.5 336.0 818.0 336.6 873.5 337.0 929.0 337.4 984.5 337.7 1040.0 337.8 1095.5 337.9 1151.0 338.0 1194.5M338.0 1194.5 338.1 1153.9 338.2 1099.8 338.4 1045.7 338.8 991.6 339.2 937.6 339.8 883.5 340.5 829.4 341.3 775.4 342.3 721.3 343.5 667.2 344.8 613.1 346.3 559.1 348.0 505.0 349.5 559.1 350.9 613.1 352.1 667.2 353.1 721.3 354.0 775.4 354.8 829.4 355.4 883.5 355.9 937.6 356.3 991.6 356.6 1045.7 356.8 1099.8 356.9 1153.9 357.0 1194.5M357.0 1194.5 357.2 1139.0 357.5 1077.5 357.9 1016.0 358.6 954.5 359.6 893.0 360.8 831.5 362.3 770.0 364.2 708.5 366.3 647.0 368.8 585.5 371.7 524.0 374.9 462.5 378.6 401.0 379.9 462.5 381.0 524.0 382.0 585.5 382.8 647.0 383.5 708.5 384.2 770.0 384.7 831.5 385.1 893.0 385.4 954.5 385.7 1016.0 385.8 1077.5 385.9 1139.0 386.0 1194.5M386.0 1194.5 386.2 1132.1 386.6 1067.2 387.2 1002.3 388.1 937.4 389.4 872.4 390.9 807.5 392.9 742.6 395.3 677.6 398.1 612.7 401.3 547.8 405.0 482.9 409.3 417.9 413.9 352.8 417.2 356.5 420.4 367.2 423.6 383.1 426.9 402.0 430.1 420.8 433.4 436.7 436.6 447.4 439.8 451.1 440.9 447.1 441.9 435.5 442.9 418.1 444.0 397.6 445.0 377.1 446.1 359.8 447.1 348.2 448.1 344.1 449.5 348.2 450.9 359.8 452.4 377.1 453.8 397.6 455.2 418.1 456.6 435.5 458.0 447.1 459.4 451.1 460.9 447.7 462.4 438.0 464.0 423.5 465.5 406.3 467.0 389.1 468.5 374.6 470.1 364.9 471.6 361.5 473.1 364.9 474.6 374.6 476.2 389.1 477.7 406.3 479.2 423.5 480.8 438.0 482.3 447.7 483.8 451.1 485.3 447.1 486.9 435.5 488.4 418.1 489.9 397.6 491.4 377.1 493.0 359.8 494.5 348.2 496.0 344.1 496.9 348.2 497.9 359.8 498.8 377.1 499.7 397.6 500.6 418.1 501.5 435.5 502.4 447.1 503.4 451.1 504.5 430.3 505.7 409.5 506.8 388.8 508.0 368.0 509.2 347.2 510.3 326.4 511.5 305.6 512.6 284.8 513.9 288.1 515.2 297.3 516.5 311.1 517.8 327.5 519.1 343.8 520.3 357.6 521.6 366.9 522.9 370.1 524.1 372.3 525.3 378.6 526.6 388.0 527.8 399.1 529.0 410.1 530.2 419.5 531.5 425.8 532.7 428.0 533.9 408.5 535.1 388.9 536.3 369.4 537.6 349.9 538.8 330.4 540.0 310.8 541.2 291.3 542.5 271.8 543.7 291.3 544.9 310.8 546.1 330.4 547.3 349.9 548.6 369.4 549.8 388.9 551.0 408.5 552.2 428.0 553.8 408.6 555.3 389.3 556.8 370.0 558.3 350.6 559.9 331.3 561.4 311.9 562.9 292.6 564.4 273.2 565.1 301.6 565.7 330.0 566.3 358.4 566.9 386.8 567.5 415.2 568.1 443.5 568.7 471.9 569.3 500.3 569.9 505.3 570.5 519.4 571.2 540.5 571.8 565.4 572.4 590.3 573.0 611.4 573.6 625.5 574.2 630.5 575.1 609.9 576.0 589.2 577.0 568.6 577.9 548.0 578.8 527.4 579.7 506.8 580.6 486.2 581.5 465.6 582.5 486.2 583.4 506.8 584.3 527.4 585.2 548.0 586.1 568.6 587.0 589.2 588.0 609.9 588.9 630.5 589.8 607.0 590.7 583.5 591.6 560.0 592.5 536.5 593.5 513.0 594.4 489.5 595.3 466.0 596.2 442.4 596.9 466.0 597.7 489.5 598.4 513.0 599.1 536.5 599.9 560.0 600.6 583.5 601.3 607.0 602.1 630.5 602.9 608.8 603.7 587.1 604.5 565.4 605.2 543.7 606.0 522.0 606.8 500.3 607.6 478.6 608.4 456.9 609.3 478.6 610.3 500.3 611.2 522.0 612.1 543.7 613.0 565.4 613.9 587.1 614.8 608.8 615.8 630.5 616.5 605.5 617.2 580.6 618.0 555.6 618.7 530.7 619.4 505.7 620.1 480.8 620.9 455.8 621.6 430.9 622.4 455.8 623.2 480.8 624.0 505.7 624.8 530.7 625.6 555.6 626.4 580.6 627.2 605.5 628.0 630.5 628.6 608.8 629.2 587.1 629.8 565.4 630.4 543.7 631.0 522.0 631.6 500.3 632.2 478.6 632.9 456.9 633.8 478.6 634.7 500.3 635.6 522.0 636.5 543.7 637.4 565.4 638.4 587.1 639.3 608.8 640.2 630.5 640.8 600.8 641.4 571.2 642.0 541.5 642.6 511.9 643.2 482.2 643.8 452.6 644.5 422.9 645.1 393.3 645.6 395.1 646.0 400.5 646.5 408.5 647.0 417.9 647.5 427.3 648.0 435.2 648.5 440.6 649.0 442.4 649.6 438.7 650.2 428.0 650.8 412.1 651.4 393.3 652.0 374.5 652.6 358.5 653.3 347.8 653.9 344.1 654.8 348.4 655.8 360.6 656.8 378.9 657.8 400.5 658.8 422.1 659.7 440.4 660.7 452.6 661.7 456.9 662.5 434.1 663.3 411.4 664.1 388.6 664.9 365.8 665.7 343.0 666.5 320.2 667.2 297.5 668.0 274.7 668.5 274.7 669.0 274.9 669.5 275.1 670.0 275.4 670.5 275.7 671.0 275.9 671.5 276.1 671.9 276.1 672.4 275.9 672.8 275.3 673.2 274.3 673.7 273.2 674.1 272.1 674.5 271.2 674.9 270.6 675.4 270.3 675.9 270.6 676.4 271.2 676.9 272.1 677.4 273.2 678.0 274.3 678.5 275.3 679.0 275.9 679.5 276.1 680.0 275.9 680.6 275.3 681.1 274.3 681.6 273.2 682.1 272.1 682.6 271.2 683.2 270.6 683.7 270.3 684.2 270.6 684.7 271.2 685.2 272.1 685.8 273.2 686.3 274.3 686.8 275.3 687.3 275.9 687.8 276.1 688.3 275.9 688.9 275.3 689.4 274.3 689.9 273.2 690.4 272.1 690.9 271.2 691.5 270.6 692.0 270.3 692.5 270.6 693.0 271.2 693.5 272.1 694.1 273.2 694.6 274.3 695.1 275.3 695.6 275.9 696.1 276.1 696.7 275.9 697.2 275.3 697.7 274.3 698.2 273.2 698.7 272.1 699.3 271.2 699.8 270.6 700.3 270.3 700.8 270.6 701.3 271.2 701.8 272.1 702.4 273.2 702.9 274.3 703.4 275.3 703.9 275.9 704.4 276.1 705.0 275.9 705.5 275.3 706.0 274.3 706.5 273.2 707.0 272.1 707.6 271.2 708.1 270.6 708.6 270.3 709.1 270.6 709.6 271.2 710.2 272.1 710.7 273.2 711.2 274.3 711.7 275.3 712.2 275.9 712.8 276.1 713.3 275.9 713.8 275.3 714.3 274.3 714.8 273.2 715.3 272.1 715.9 271.2 716.4 270.6 716.9 270.3 717.4 270.6 717.9 271.2 718.5 272.1 719.0 273.2 719.5 274.3 720.0 275.3 720.5 275.9 721.1 276.1 721.6 275.9 722.1 275.1 722.6 273.9 723.1 272.5 723.7 271.1 724.2 270.0 724.7 269.2 725.2 268.9 726.2 271.5 727.2 278.9 728.2 290.0 729.2 303.1 730.1 316.1 731.1 327.2 732.1 334.6 733.1 337.2 733.5 337.6 734.0 338.7 734.4 340.3 734.8 342.3 735.3 344.2 735.7 345.8 736.2 346.9 736.6 347.3 737.0 346.4 737.4 343.8 737.8 339.9 738.2 335.3 738.6 330.7 739.1 326.8 739.5 324.2 739.9 323.3 740.3 324.2 740.7 327.0 741.2 331.1 741.6 336.0 742.0 340.8 742.4 345.0 742.9 347.7 743.3 348.7 743.7 348.0 744.2 345.9 744.6 342.9 745.0 339.4 745.5 335.8 745.9 332.8 746.3 330.8 746.7 330.1 747.2 330.7 747.7 332.7 748.1 335.6 748.6 339.0 749.1 342.4 749.5 345.3 750.0 347.3 750.4 347.9 750.9 347.4 751.4 345.9 751.9 343.7 752.4 341.1 752.9 338.5 753.4 336.3 753.9 334.8 754.3 334.3 754.7 334.7 755.1 336.1 755.5 338.2 755.8 340.7 756.2 343.1 756.6 345.2 756.9 346.6 757.3 347.1 757.6 346.7 757.9 345.6 758.3 344.0 758.6 342.1 758.9 340.2 759.3 338.6 759.6 337.6 759.9 337.2 760.3 337.6 760.8 338.7 761.2 340.4 761.6 342.4 762.1 344.4 762.5 346.1 762.9 347.2 763.3 347.6 763.7 346.9 764.1 344.9 764.5 341.8 764.9 338.2 765.3 334.7 765.7 331.6 766.0 329.6 766.4 328.9 766.8 329.6 767.2 331.7 767.6 334.9 768.1 338.7 768.5 342.4 768.9 345.6 769.3 347.7 769.7 348.5 770.1 348.4 770.5 348.3 771.0 348.0 771.4 347.7 771.8 347.5 772.2 347.2 772.7 347.1 773.1 347.0 773.5 344.1 773.8 336.0 774.2 323.8 774.6 309.4 774.9 295.0 775.3 282.8 775.7 274.7 776.0 271.8 776.7 273.9 777.3 279.8 778.0 288.6 778.6 299.0 779.3 309.4 779.9 318.3 780.6 324.2 781.2 326.2 781.6 327.0 782.0 329.2 782.4 332.6 782.8 336.5 783.2 340.4 783.6 343.7 784.0 345.9 784.4 346.7 784.8 346.0 785.1 344.0 785.5 340.9 785.9 337.4 786.2 333.8 786.6 330.7 787.0 328.7 787.3 328.0 787.7 328.8 788.0 331.0 788.3 334.4 788.6 338.3 789.0 342.3 789.3 345.6 789.6 347.9 789.9 348.7 790.3 347.8 790.6 345.3 791.0 341.5 791.3 337.1 791.7 332.7 792.0 328.9 792.4 326.4 792.7 325.5 793.1 326.4 793.4 328.9 793.8 332.6 794.1 336.9 794.5 341.3 794.8 345.0 795.2 347.4 795.5 348.3 795.9 347.4 796.2 344.8 796.6 340.8 797.0 336.2 797.3 331.5 797.7 327.6 798.0 324.9 798.4 324.0 798.8 325.0 799.1 327.7 799.5 331.7 799.9 336.4 800.3 341.2 800.7 345.2 801.1 347.9 801.4 348.8 801.7 347.8 802.0 344.8 802.3 340.4 802.5 335.2 802.8 330.0 803.1 325.6 803.4 322.6 803.6 321.6 804.0 322.5 804.3 325.3 804.7 329.4 805.0 334.2 805.3 339.0 805.7 343.1 806.0 345.8 806.3 346.8 806.8 346.9 807.2 347.0 807.6 347.1 808.0 347.3 808.5 347.5 808.9 347.7 809.3 347.8 809.8 347.9 810.2 345.0 810.7 336.8 811.2 324.6 811.7 310.1 812.2 295.7 812.7 283.4 813.1 275.3 813.6 272.4 815.8 274.0 818.0 278.6 820.2 285.5 822.4 293.6 824.6 301.8 826.8 308.7 829.1 313.3 831.3 314.9 833.0 314.9 834.7 314.9 836.4 314.9 838.1 314.9 839.8 314.9 841.5 314.9 843.2 314.9 844.9 314.9 845.9 313.1 846.8 308.1 847.7 300.6 848.6 291.7 849.5 282.9 850.5 275.4 851.4 270.4 852.3 268.6 853.9 269.9 855.5 273.6 857.0 279.2 858.6 285.8 860.2 292.4 861.8 298.0 863.4 301.7 865.0 303.0 866.5 303.0 868.0 303.0 869.6 303.0 871.1 303.0 872.6 303.0 874.1 303.0 875.7 303.0 877.2 303.0 878.1 301.9 878.9 298.7 879.8 293.9 880.7 288.3 881.5 282.6 882.4 277.8 883.3 274.6 884.1 273.5 886.2 275.0 888.3 279.2 890.3 285.5 892.4 292.9 894.5 300.3 896.5 306.6 898.6 310.8 900.6 312.3 901.1 312.3 901.5 312.3 901.9 312.3 902.4 312.3 902.8 312.3 903.2 312.3 903.6 312.3 904.1 312.3 904.4 312.1 904.7 311.4 905.0 310.5 905.3 309.4 905.6 308.3 905.9 307.3 906.2 306.7 906.5 306.5 906.7 305.5 906.9 302.7 907.2 298.5 907.4 293.5 907.6 288.5 907.8 284.3 908.0 281.5 908.2 280.5 908.4 279.1 908.6 275.2 908.8 269.3 909.0 262.4 909.1 255.5 909.3 249.6 909.5 245.7 909.7 244.3 910.1 241.9 910.6 235.0 911.1 224.7 911.5 212.5 912.0 200.3 912.4 190.0 912.9 183.1 913.4 180.7 913.9 178.1 914.5 170.7 915.1 159.7 915.7 146.7 916.3 133.7 916.8 122.7 917.4 115.3 918.0 112.7 918.5 111.0 919.1 106.3 919.6 99.2 920.2 90.9 920.7 82.5 921.3 75.4 921.8 70.7 922.4 69.0 922.8 68.3 923.3 66.1 923.8 62.9 924.2 59.0 924.7 55.2 925.1 52.0 925.6 49.8 926.1 49.1 926.4 48.6 926.7 47.4 927.0 45.5 927.3 43.3 927.6 41.1 927.9 39.2 928.2 37.9 928.5 37.5 928.8 37.9 929.1 39.2 929.4 41.1 929.7 43.3 930.0 45.5 930.3 47.4 930.6 48.6 930.9 49.1 931.4 49.8 931.9 52.0 932.3 55.2 932.8 59.0 933.2 62.9 933.7 66.1 934.2 68.3 934.6 69.0 935.2 70.7 935.7 75.4 936.3 82.5 936.8 90.9 937.4 99.2 937.9 106.3 938.5 111.0 939.0 112.7 939.6 115.3 940.2 122.7 940.7 133.7 941.3 146.7 941.9 159.7 942.5 170.7 943.1 178.1 943.6 180.7 944.1 183.1 944.6 190.0 945.0 200.3 945.5 212.5 945.9 224.7 946.4 235.0 946.9 241.9 947.3 244.3 947.5 245.7 947.7 249.6 947.9 255.5 948.0 262.4 948.2 269.3 948.4 275.2 948.6 279.1 948.8 280.5 949.0 281.5 949.2 284.3 949.4 288.5 949.6 293.5 949.8 298.5 950.1 302.7 950.3 305.5 950.5 306.5 950.8 306.7 951.1 307.3 951.4 308.3 951.7 309.4 952.0 310.5 952.3 311.4 952.6 312.1 952.9 312.3 953.4 312.3 953.8 312.3 954.2 312.3 954.6 312.3 955.1 312.3 955.5 312.3 955.9 312.3 956.4 312.3 958.4 310.8 960.5 306.6 962.5 300.3 964.6 292.9 966.7 285.5 968.7 279.2 970.8 275.0 972.9 273.5 973.7 274.6 974.6 277.8 975.5 282.6 976.3 288.3 977.2 293.9 978.1 298.7 978.9 301.9 979.8 303.0 981.3 303.0 982.9 303.0 984.4 303.0 985.9 303.0 987.4 303.0 989.0 303.0 990.5 303.0 992.0 303.0 993.6 301.7 995.2 298.0 996.8 292.4 998.4 285.8 1000.0 279.2 1001.5 273.6 1003.1 269.9 1004.7 268.6 1005.6 270.4 1006.5 275.4 1007.5 282.9 1008.4 291.7 1009.3 300.6 1010.2 308.1 1011.1 313.1 1012.1 314.9 1013.8 314.9 1015.5 314.9 1017.2 314.9 1018.9 314.9 1020.6 314.9 1022.3 314.9 1024.0 314.9 1025.7 314.9 1027.9 313.3 1030.2 308.7 1032.4 301.8 1034.6 293.6 1036.8 285.5 1039.0 278.6 1041.2 274.0 1043.4 272.4 1043.9 275.3 1044.3 283.4 1044.8 295.7 1045.3 310.1 1045.8 324.6 1046.3 336.8 1046.8 345.0 1047.2 347.9 1047.7 347.8 1048.1 347.7 1048.5 347.5 1049.0 347.3 1049.4 347.1 1049.8 347.0 1050.2 346.9 1050.7 346.8 1051.0 345.8 1051.3 343.1 1051.7 339.0 1052.0 334.2 1052.3 329.4 1052.7 325.3 1053.0 322.5 1053.4 321.6 1053.6 322.6 1053.9 325.6 1054.2 330.0 1054.5 335.2 1054.7 340.4 1055.0 344.8 1055.3 347.8 1055.6 348.8 1055.9 347.9 1056.3 345.2 1056.7 341.2 1057.1 336.4 1057.5 331.7 1057.9 327.7 1058.2 325.0 1058.6 324.0 1059.0 324.9 1059.3 327.6 1059.7 331.5 1060.0 336.2 1060.4 340.8 1060.8 344.8 1061.1 347.4 1061.5 348.3 1061.8 347.4 1062.2 345.0 1062.5 341.3 1062.9 336.9 1063.2 332.6 1063.6 328.9 1063.9 326.4 1064.3 325.5 1064.6 326.4 1065.0 328.9 1065.3 332.7 1065.7 337.1 1066.0 341.5 1066.4 345.3 1066.7 347.8 1067.1 348.7 1067.4 347.9 1067.7 345.6 1068.0 342.3 1068.4 338.3 1068.7 334.4 1069.0 331.0 1069.3 328.8 1069.7 328.0 1070.0 328.7 1070.4 330.7 1070.8 333.8 1071.1 337.4 1071.5 340.9 1071.9 344.0 1072.2 346.0 1072.6 346.7 1073.0 345.9 1073.4 343.7 1073.8 340.4 1074.2 336.5 1074.6 332.6 1075.0 329.2 1075.4 327.0 1075.8 326.2 1076.4 324.2 1077.1 318.3 1077.7 309.4 1078.4 299.0 1079.0 288.6 1079.7 279.8 1080.3 273.9 1081.0 271.8 1081.3 274.7 1081.7 282.8 1082.1 295.0 1082.4 309.4 1082.8 323.8 1083.2 336.0 1083.5 344.1 1083.9 347.0 1084.3 347.1 1084.8 347.2 1085.2 347.5 1085.6 347.7 1086.0 348.0 1086.5 348.3 1086.9 348.4 1087.3 348.5 1087.7 347.7 1088.1 345.6 1088.5 342.4 1088.9 338.7 1089.4 334.9 1089.8 331.7 1090.2 329.6 1090.6 328.9 1091.0 329.6 1091.3 331.6 1091.7 334.7 1092.1 338.2 1092.5 341.8 1092.9 344.9 1093.3 346.9 1093.7 347.6 1094.1 347.2 1094.5 346.1 1094.9 344.4 1095.4 342.4 1095.8 340.4 1096.2 338.7 1096.7 337.6 1097.1 337.2 1097.4 337.6 1097.7 338.6 1098.1 340.2 1098.4 342.1 1098.7 344.0 1099.1 345.6 1099.4 346.7 1099.7 347.1 1100.1 346.6 1100.4 345.2 1100.8 343.1 1101.2 340.7 1101.5 338.2 1101.9 336.1 1102.3 334.7 1102.7 334.3 1103.1 334.8 1103.6 336.3 1104.1 338.5 1104.6 341.1 1105.1 343.7 1105.6 345.9 1106.1 347.4 1106.6 347.9 1107.0 347.3 1107.5 345.3 1107.9 342.4 1108.4 339.0 1108.9 335.6 1109.3 332.7 1109.8 330.7 1110.3 330.1 1110.7 330.8 1111.1 332.8 1111.5 335.8 1112.0 339.4 1112.4 342.9 1112.8 345.9 1113.3 348.0 1113.7 348.7 1114.1 347.7 1114.6 345.0 1115.0 340.8 1115.4 336.0 1115.8 331.1 1116.3 327.0 1116.7 324.2 1117.1 323.3 1117.5 324.2 1117.9 326.8 1118.4 330.7 1118.8 335.3 1119.2 339.9 1119.6 343.8 1120.0 346.4 1120.4 347.3 1120.8 346.9 1121.3 345.8 1121.7 344.2 1122.2 342.3 1122.6 340.3 1123.0 338.7 1123.5 337.6 1123.9 337.2 1124.9 334.6 1125.9 327.2 1126.9 316.1 1127.8 303.1 1128.8 290.0 1129.8 278.9 1130.8 271.5 1131.8 268.9 1132.3 269.2 1132.8 270.0 1133.3 271.1 1133.9 272.5 1134.4 273.9 1134.9 275.1 1135.4 275.9 1135.9 276.1 1136.5 275.9 1137.0 275.3 1137.5 274.3 1138.0 273.2 1138.5 272.1 1139.1 271.2 1139.6 270.6 1140.1 270.3 1140.6 270.6 1141.1 271.2 1141.7 272.1 1142.2 273.2 1142.7 274.3 1143.2 275.3 1143.7 275.9 1144.2 276.1 1144.8 275.9 1145.3 275.3 1145.8 274.3 1146.3 273.2 1146.8 272.1 1147.4 271.2 1147.9 270.6 1148.4 270.3 1148.9 270.6 1149.4 271.2 1150.0 272.1 1150.5 273.2 1151.0 274.3 1151.5 275.3 1152.0 275.9 1152.6 276.1 1153.1 275.9 1153.6 275.3 1154.1 274.3 1154.6 273.2 1155.2 272.1 1155.7 271.2 1156.2 270.6 1156.7 270.3 1157.2 270.6 1157.7 271.2 1158.3 272.1 1158.8 273.2 1159.3 274.3 1159.8 275.3 1160.3 275.9 1160.9 276.1 1161.4 275.9 1161.9 275.3 1162.4 274.3 1162.9 273.2 1163.5 272.1 1164.0 271.2 1164.5 270.6 1165.0 270.3 1165.5 270.6 1166.1 271.2 1166.6 272.1 1167.1 273.2 1167.6 274.3 1168.1 275.3 1168.7 275.9 1169.2 276.1 1169.7 275.9 1170.2 275.3 1170.7 274.3 1171.2 273.2 1171.8 272.1 1172.3 271.2 1172.8 270.6 1173.3 270.3 1173.8 270.6 1174.4 271.2 1174.9 272.1 1175.4 273.2 1175.9 274.3 1176.4 275.3 1177.0 275.9 1177.5 276.1 1178.0 275.9 1178.5 275.3 1179.0 274.3 1179.6 273.2 1180.1 272.1 1180.6 271.2 1181.1 270.6 1181.6 270.3 1182.1 270.6 1182.5 271.2 1182.9 272.1 1183.3 273.2 1183.8 274.3 1184.2 275.3 1184.6 275.9 1185.1 276.1 1185.5 276.1 1186.0 275.9 1186.5 275.7 1187.0 275.4 1187.5 275.1 1188.0 274.9 1188.5 274.7 1189.0 274.7 1189.8 297.5 1190.5 320.2 1191.3 343.0 1192.1 365.8 1192.9 388.6 1193.7 411.4 1194.5 434.1 1195.3 456.9 1196.3 452.6 1197.3 440.4 1198.2 422.1 1199.2 400.5 1200.2 378.9 1201.2 360.6 1202.2 348.4 1203.1 344.1 1203.7 347.8 1204.4 358.5 1205.0 374.5 1205.6 393.3 1206.2 412.1 1206.8 428.0 1207.4 438.7 1208.0 442.4 1208.5 440.6 1209.0 435.2 1209.5 427.3 1210.0 417.9 1210.5 408.5 1211.0 400.5 1211.4 395.1 1211.9 393.3 1212.5 422.9 1213.2 452.6 1213.8 482.2 1214.4 511.9 1215.0 541.5 1215.6 571.2 1216.2 600.8 1216.8 630.5 1217.7 608.8 1218.6 587.1 1219.6 565.4 1220.5 543.7 1221.4 522.0 1222.3 500.3 1223.2 478.6 1224.1 456.9 1224.8 478.6 1225.4 500.3 1226.0 522.0 1226.6 543.7 1227.2 565.4 1227.8 587.1 1228.4 608.8 1229.0 630.5 1229.8 605.5 1230.6 580.6 1231.4 555.6 1232.2 530.7 1233.0 505.7 1233.8 480.8 1234.6 455.8 1235.4 430.9 1236.1 455.8 1236.9 480.8 1237.6 505.7 1238.3 530.7 1239.0 555.6 1239.8 580.6 1240.5 605.5 1241.2 630.5 1242.2 608.8 1243.1 587.1 1244.0 565.4 1244.9 543.7 1245.8 522.0 1246.7 500.3 1247.7 478.6 1248.6 456.9 1249.4 478.6 1250.2 500.3 1251.0 522.0 1251.8 543.7 1252.5 565.4 1253.3 587.1 1254.1 608.8 1254.9 630.5 1255.7 607.0 1256.4 583.5 1257.1 560.0 1257.9 536.5 1258.6 513.0 1259.3 489.5 1260.1 466.0 1260.8 442.4 1261.7 466.0 1262.6 489.5 1263.5 513.0 1264.5 536.5 1265.4 560.0 1266.3 583.5 1267.2 607.0 1268.1 630.5 1269.0 609.9 1270.0 589.2 1270.9 568.6 1271.8 548.0 1272.7 527.4 1273.6 506.8 1274.5 486.2 1275.5 465.6 1276.4 486.2 1277.3 506.8 1278.2 527.4 1279.1 548.0 1280.0 568.6 1281.0 589.2 1281.9 609.9 1282.8 630.5 1283.4 625.5 1284.0 611.4 1284.6 590.3 1285.2 565.4 1285.8 540.5 1286.5 519.4 1287.1 505.3 1287.7 500.3 1288.3 471.9 1288.9 443.5 1289.5 415.2 1290.1 386.8 1290.7 358.4 1291.3 330.0 1291.9 301.6 1292.6 273.2 1294.1 292.6 1295.6 311.9 1297.1 331.3 1298.7 350.6 1300.2 370.0 1301.7 389.3 1303.2 408.6 1304.8 428.0 1306.0 408.5 1307.2 388.9 1308.4 369.4 1309.7 349.9 1310.9 330.4 1312.1 310.8 1313.3 291.3 1314.5 271.8 1315.8 291.3 1317.0 310.8 1318.2 330.4 1319.4 349.9 1320.7 369.4 1321.9 388.9 1323.1 408.5 1324.3 428.0 1325.5 425.8 1326.8 419.5 1328.0 410.1 1329.2 399.1 1330.4 388.0 1331.7 378.6 1332.9 372.3 1334.1 370.1 1335.4 366.9 1336.7 357.6 1337.9 343.8 1339.2 327.5 1340.5 311.1 1341.8 297.3 1343.1 288.1 1344.4 284.8 1345.5 305.6 1346.7 326.4 1347.8 347.2 1349.0 368.0 1350.2 388.8 1351.3 409.5 1352.5 430.3 1353.6 451.1 1354.6 447.1 1355.5 435.5 1356.4 418.1 1357.3 397.6 1358.2 377.1 1359.1 359.8 1360.1 348.2 1361.0 344.1 1362.5 348.2 1364.0 359.8 1365.6 377.1 1367.1 397.6 1368.6 418.1 1370.1 435.5 1371.7 447.1 1373.2 451.1 1374.7 447.7 1376.2 438.0 1377.8 423.5 1379.3 406.3 1380.8 389.1 1382.4 374.6 1383.9 364.9 1385.4 361.5 1386.9 364.9 1388.5 374.6 1390.0 389.1 1391.5 406.3 1393.0 423.5 1394.6 438.0 1396.1 447.7 1397.6 451.1 1399.0 447.1 1400.4 435.5 1401.8 418.1 1403.2 397.6 1404.6 377.1 1406.1 359.8 1407.5 348.2 1408.9 344.1 1409.9 348.2 1410.9 359.8 1412.0 377.1 1413.0 397.6 1414.1 418.1 1415.1 435.5 1416.1 447.1 1417.2 451.1 1420.4 447.4 1423.6 436.7 1426.9 420.8 1430.1 402.0 1433.4 383.1 1436.6 367.2 1439.8 356.5 1443.1 352.8 1452.0 420.0 1458.0 400.0 1460.7 461.6 1463.1 523.1 1465.2 584.7 1467.1 646.3 1468.7 707.9 1470.1 769.4 1471.2 831.0 1472.1 892.6 1472.8 954.1 1473.3 1015.7 1473.7 1077.3 1473.9 1138.9 1474.0 1194.5M1474.0 1194.5 1474.1 1143.1 1474.2 1083.7 1474.4 1024.3 1474.8 964.9 1475.2 905.4 1475.8 846.0 1476.5 786.6 1477.3 727.1 1478.3 667.7 1479.5 608.3 1480.8 548.9 1482.3 489.4 1484.0 430.0 1486.9 489.4 1489.4 548.9 1491.7 608.3 1493.7 667.7 1495.4 727.1 1496.8 786.6 1498.0 846.0 1499.0 905.4 1499.7 964.9 1500.3 1024.3 1500.6 1083.7 1500.9 1143.1 1501.0 1194.5M1501.0 1194.5 1501.1 1144.6 1501.2 1085.9 1501.4 1027.1 1501.7 968.4 1502.1 909.7 1502.6 851.0 1503.2 792.3 1504.0 733.6 1504.9 674.9 1505.9 616.1 1507.1 557.4 1508.5 498.7 1510.0 440.0 1512.2 498.7 1514.2 557.4 1515.9 616.1 1517.4 674.9 1518.7 733.6 1519.8 792.3 1520.7 851.0 1521.4 909.7 1522.0 968.4 1522.4 1027.1 1522.7 1085.9 1522.9 1144.6 1523.0 1194.5M1523.0 1194.5 1523.1 1146.0 1523.1 1088.0 1523.3 1030.0 1523.5 972.0 1523.8 914.0 1524.2 856.0 1524.7 798.0 1525.3 740.0 1526.0 682.0 1526.8 624.0 1527.8 566.0 1528.8 508.0 1530.0 450.0 1531.5 508.0 1532.9 566.0 1534.1 624.0 1535.1 682.0 1536.0 740.0 1536.8 798.0 1537.4 856.0 1537.9 914.0 1538.3 972.0 1538.6 1030.0 1538.8 1088.0 1538.9 1146.0 1539.0 1194.5M1539.0 1194.5 1539.1 1143.1 1539.2 1083.7 1539.5 1024.3 1539.8 964.9 1540.3 905.4 1540.9 846.0 1541.7 786.6 1542.6 727.1 1543.7 667.7 1545.0 608.3 1546.5 548.9 1548.1 489.4 1550.0 430.0 1552.5 489.4 1554.8 548.9 1556.8 608.3 1558.5 667.7 1560.0 727.1 1561.3 786.6 1562.3 846.0 1563.2 905.4 1563.9 964.9 1564.3 1024.3 1564.7 1083.7 1564.9 1143.1 1565.0 1194.5M1565.0 1194.5 1565.1 1143.1 1565.3 1083.7 1565.6 1024.3 1566.0 964.9 1566.6 905.4 1567.3 846.0 1568.2 786.6 1569.3 727.1 1570.6 667.7 1572.1 608.3 1573.8 548.9 1575.8 489.4 1578.0 430.0 1580.5 489.4 1582.8 548.9 1584.8 608.3 1586.5 667.7 1588.0 727.1 1589.3 786.6 1590.3 846.0 1591.2 905.4 1591.9 964.9 1592.3 1024.3 1592.7 1083.7 1592.9 1143.1 1593.0 1194.5M1593.0 1194.5 1593.1 1144.6 1593.3 1085.9 1593.5 1027.1 1593.9 968.4 1594.4 909.7 1595.1 851.0 1596.0 792.3 1597.0 733.6 1598.2 674.9 1599.6 616.1 1601.2 557.4 1603.0 498.7 1605.0 440.0 1607.5 498.7 1609.8 557.4 1611.8 616.1 1613.5 674.9 1615.0 733.6 1616.3 792.3 1617.3 851.0 1618.2 909.7 1618.9 968.4 1619.3 1027.1 1619.7 1085.9 1619.9 1144.6 1620.0 1194.5M1620.0 1194.5 1620.1 1146.0 1620.3 1088.0 1620.7 1030.0 1621.1 972.0 1621.8 914.0 1622.7 856.0 1623.7 798.0 1625.0 740.0 1626.5 682.0 1628.2 624.0 1630.2 566.0 1632.5 508.0 1635.0 450.0 1638.4 508.0 1641.4 566.0 1644.1 624.0 1646.4 682.0 1648.4 740.0 1650.1 798.0 1651.5 856.0 1652.6 914.0 1653.5 972.0 1654.1 1030.0 1654.6 1088.0 1654.8 1146.0 1655.0 1194.5" stroke="#77AC30" stroke-width="9.7" stroke-linejoin="round" stroke-linecap="butt" stroke-dasharray="28 26"/>
<path d="M195.5 722.0 199.0 706.0 203.0 728.0 206.5 712.0 207.0 751.3 207.5 790.6 207.9 829.9 208.2 869.1 208.5 908.4 208.8 947.7 209.0 987.0 209.1 1026.3 209.3 1065.6 209.4 1104.9 209.4 1144.1 209.5 1183.4 209.5 1194.5M209.5 1194.5 209.5 1185.7 209.6 1147.6 209.7 1109.4 209.8 1071.3 210.0 1033.1 210.2 995.0 210.5 956.9 210.8 918.7 211.2 880.6 211.7 842.4 212.2 804.3 212.8 766.1 213.5 728.0 218.0 710.0 221.0 722.0 227.0 517.0 228.4 570.2 229.6 623.4 230.6 676.6 231.6 729.9 232.3 783.1 233.0 836.3 233.6 889.5 234.0 942.7 234.4 995.9 234.7 1049.1 234.8 1102.4 234.9 1155.6 235.0 1194.5M235.0 1194.5 235.2 1138.4 235.5 1076.6 236.0 1014.9 236.7 953.1 237.7 891.3 239.0 829.5 240.5 767.7 242.4 705.9 244.7 644.1 247.3 582.4 250.2 520.6 253.6 458.8 257.4 397.0 259.2 458.8 260.8 520.6 262.2 582.4 263.4 644.1 264.5 705.9 265.4 767.7 266.1 829.5 266.7 891.3 267.2 953.1 267.5 1014.9 267.8 1076.6 267.9 1138.4 268.0 1194.5M268.1 1194.5 268.2 1148.9 268.6 1092.3 269.1 1035.7 270.0 979.1 271.1 922.6 272.6 866.0 274.4 809.4 276.6 752.9 279.2 696.3 282.2 639.7 285.7 583.1 289.6 526.6 294.0 470.0 295.7 452.0 299.7 405.0 302.2 365.0 303.7 340.0 305.2 365.0 307.7 405.0 311.7 452.0 315.7 455.0 320.2 418.0 324.7 455.0 329.2 418.0 333.7 455.0 334.0 452.0 338.0 405.0 340.5 372.0 342.0 347.0 343.5 372.0 346.0 405.0 350.0 452.0 354.0 455.0 356.0 452.0 360.0 405.0 362.5 347.0 364.0 322.0 365.5 347.0 368.0 405.0 372.0 452.0 376.0 455.0 380.5 418.0 385.0 455.0 389.5 418.0 390.8 452.0 394.8 405.0 397.3 372.0 398.8 347.0 400.3 372.0 402.8 405.0 406.8 452.0 410.8 455.0 412.8 452.0 416.8 405.0 419.3 312.0 420.8 287.0 422.3 312.0 424.8 405.0 428.8 452.0 432.0 430.0 435.4 448.2 436.2 445.8 437.0 438.9 437.8 428.6 438.6 416.4 439.4 404.2 440.2 393.9 441.0 387.0 441.8 384.6 442.2 380.9 442.5 370.2 442.9 354.2 443.3 335.4 443.6 316.6 444.0 300.7 444.4 290.0 444.7 286.3 446.0 285.7 447.3 284.0 448.6 281.5 449.9 278.6 451.3 275.7 452.6 273.2 453.9 271.5 455.2 270.9 456.2 272.5 457.2 277.0 458.2 283.7 459.2 291.6 460.2 299.5 461.3 306.2 462.3 310.7 463.3 312.3 463.7 317.8 464.0 333.5 464.4 356.9 464.8 384.6 465.1 412.3 465.5 435.7 465.9 451.4 466.2 456.9 466.8 478.2 467.4 499.6 468.1 520.9 468.7 542.2 469.3 563.6 469.9 584.9 470.5 606.2 471.1 627.6 471.6 627.5 472.1 627.3 472.6 627.1 473.1 626.8 473.6 626.5 474.1 626.2 474.6 626.0 475.1 626.0 476.3 605.3 477.4 584.7 478.6 564.0 479.7 543.4 480.9 522.7 482.0 502.1 483.2 481.4 484.3 460.8 485.5 481.6 486.6 502.4 487.8 523.2 488.9 544.0 490.1 564.7 491.2 585.5 492.4 606.3 493.6 627.1 494.5 604.8 495.4 582.5 496.3 560.2 497.2 537.9 498.1 515.6 499.0 493.3 499.9 471.0 500.8 448.8 501.8 471.2 502.9 493.6 503.9 516.1 504.9 538.5 506.0 561.0 507.0 583.4 508.1 605.9 509.1 628.3 510.2 605.4 511.4 582.6 512.5 559.7 513.6 536.8 514.7 513.9 515.8 491.0 517.0 468.2 518.1 445.3 519.0 467.8 520.0 490.3 520.9 512.8 521.8 535.3 522.8 557.7 523.7 580.2 524.6 602.7 525.6 625.2 526.5 602.9 527.5 580.5 528.5 558.2 529.5 535.9 530.4 513.5 531.4 491.2 532.4 468.8 533.4 446.5 534.4 469.0 535.4 491.4 536.4 513.9 537.4 536.3 538.4 558.8 539.4 581.2 540.5 603.7 541.5 626.2 542.3 605.5 543.1 584.8 543.9 564.2 544.8 543.5 545.6 522.9 546.4 502.2 547.2 481.6 548.1 460.9 549.1 481.4 550.1 501.9 551.1 522.4 552.1 542.8 553.2 563.3 554.2 583.8 555.2 604.3 556.2 624.8 557.2 602.4 558.3 580.0 559.3 557.6 560.3 535.2 561.4 512.8 562.4 490.3 563.4 467.9 564.4 445.5 564.7 468.3 565.1 491.0 565.4 513.8 565.7 536.6 566.0 559.3 566.3 582.1 566.6 604.8 566.9 627.6 567.6 607.3 568.4 587.1 569.1 566.8 569.8 546.6 570.5 526.3 571.3 506.1 572.0 485.8 572.7 465.6 573.7 462.7 574.7 454.6 575.7 442.4 576.7 428.0 577.6 413.6 578.6 401.4 579.6 393.2 580.6 390.4 581.3 391.3 582.0 393.8 582.8 397.5 583.5 402.0 584.2 406.4 585.0 410.1 585.7 412.6 586.4 413.5 587.4 410.9 588.4 403.4 589.4 392.1 590.3 378.8 591.3 365.5 592.3 354.3 593.3 346.7 594.2 344.1 595.5 347.1 596.8 355.5 598.1 368.2 599.4 383.2 600.7 398.1 601.9 410.8 603.2 419.2 604.5 422.2 605.2 403.8 605.9 385.3 606.5 366.9 607.2 348.4 607.9 330.0 608.5 311.6 609.2 293.1 609.9 274.7 610.3 274.8 610.7 275.1 611.2 275.6 611.6 276.1 612.0 276.7 612.5 277.2 612.9 277.5 613.3 277.6 613.5 277.3 613.7 276.5 613.9 275.3 614.0 274.0 614.2 272.6 614.4 271.4 614.6 270.6 614.8 270.3 615.4 270.6 616.0 271.4 616.6 272.6 617.2 274.0 617.8 275.3 618.4 276.5 619.0 277.3 619.7 277.6 620.3 277.3 620.9 276.5 621.5 275.3 622.1 274.0 622.7 272.6 623.3 271.4 623.9 270.6 624.5 270.3 625.2 270.6 625.8 271.4 626.4 272.6 627.0 274.0 627.6 275.3 628.2 276.5 628.8 277.3 629.4 277.6 630.0 277.3 630.7 276.5 631.3 275.3 631.9 274.0 632.5 272.6 633.1 271.4 633.7 270.6 634.3 270.3 634.9 270.6 635.5 271.4 636.2 272.6 636.8 274.0 637.4 275.3 638.0 276.5 638.6 277.3 639.2 277.6 639.8 277.3 640.4 276.5 641.0 275.3 641.7 274.0 642.3 272.6 642.9 271.4 643.5 270.6 644.1 270.3 644.7 270.6 645.3 271.4 645.9 272.6 646.5 274.0 647.1 275.3 647.8 276.5 648.4 277.3 649.0 277.6 649.6 277.3 650.2 276.5 650.8 275.3 651.4 274.0 652.0 272.6 652.6 271.4 653.3 270.6 653.9 270.3 654.5 270.6 655.1 271.4 655.7 272.6 656.3 274.0 656.9 275.3 657.5 276.5 658.1 277.3 658.8 277.6 659.4 277.3 660.0 276.5 660.6 275.3 661.2 274.0 661.8 272.6 662.4 271.4 663.0 270.6 663.6 270.3 664.3 270.6 664.9 271.4 665.5 272.6 666.1 274.0 666.7 275.3 667.3 276.5 667.9 277.3 668.5 277.6 669.1 277.2 669.7 276.3 670.4 274.8 671.0 273.1 671.6 271.4 672.2 269.9 672.8 269.0 673.4 268.6 673.8 269.7 674.3 272.9 674.7 277.6 675.1 283.2 675.6 288.8 676.0 293.5 676.4 296.7 676.8 297.8 678.0 299.3 679.1 303.4 680.3 309.6 681.4 316.9 682.5 324.2 683.7 330.4 684.8 334.6 686.0 336.0 686.5 336.4 687.0 337.7 687.5 339.6 688.0 341.8 688.5 344.1 689.1 346.0 689.6 347.2 690.1 347.7 690.7 347.2 691.4 345.9 692.1 343.9 692.7 341.6 693.4 339.3 694.0 337.3 694.7 336.0 695.3 335.5 695.9 336.0 696.6 337.4 697.2 339.6 697.8 342.1 698.5 344.7 699.1 346.8 699.7 348.3 700.4 348.8 701.1 348.0 701.9 345.8 702.6 342.5 703.4 338.6 704.1 334.8 704.8 331.5 705.6 329.3 706.3 328.5 707.1 329.2 707.8 331.4 708.6 334.5 709.4 338.2 710.1 341.9 710.9 345.1 711.6 347.2 712.4 347.9 712.9 347.0 713.4 344.4 713.9 340.5 714.5 335.9 715.0 331.2 715.5 327.3 716.0 324.7 716.5 323.8 717.2 324.6 717.9 327.1 718.6 330.9 719.4 335.3 720.1 339.7 720.8 343.5 721.5 346.0 722.2 346.8 722.9 346.1 723.6 343.9 724.3 340.7 725.0 336.9 725.7 333.0 726.5 329.8 727.2 327.7 727.9 326.9 728.5 327.7 729.2 329.9 729.8 333.3 730.5 337.2 731.1 341.2 731.7 344.6 732.4 346.8 733.0 347.6 733.4 347.6 733.8 347.5 734.1 347.4 734.5 347.3 734.9 347.2 735.2 347.1 735.6 347.0 736.0 347.0 736.4 344.1 736.8 336.0 737.2 323.8 737.7 309.4 738.1 295.0 738.5 282.8 739.0 274.7 739.4 271.8 740.2 273.7 741.0 279.1 741.8 287.2 742.6 296.7 743.5 306.3 744.3 314.4 745.1 319.8 745.9 321.7 746.2 322.7 746.6 325.6 747.0 330.0 747.3 335.1 747.7 340.3 748.0 344.6 748.4 347.6 748.7 348.6 749.2 347.4 749.6 344.2 750.0 339.3 750.5 333.6 750.9 327.8 751.3 322.9 751.8 319.7 752.2 318.5 752.7 319.6 753.1 322.7 753.5 327.3 754.0 332.7 754.4 338.1 754.8 342.7 755.3 345.8 755.7 346.9 756.1 346.3 756.4 344.5 756.7 341.9 757.1 338.8 757.4 335.7 757.8 333.1 758.1 331.3 758.5 330.7 758.8 331.4 759.1 333.3 759.5 336.2 759.8 339.5 760.1 342.9 760.5 345.8 760.8 347.7 761.1 348.4 761.5 347.6 761.9 345.5 762.3 342.3 762.7 338.5 763.1 334.8 763.5 331.6 763.9 329.4 764.3 328.7 764.7 329.4 765.1 331.4 765.6 334.4 766.0 337.9 766.4 341.5 766.9 344.5 767.3 346.5 767.7 347.2 768.2 346.3 768.6 344.0 769.1 340.5 769.5 336.4 770.0 332.2 770.4 328.7 770.9 326.4 771.3 325.6 771.6 326.4 772.0 328.9 772.3 332.7 772.6 337.1 772.9 341.5 773.2 345.3 773.6 347.8 773.9 348.7 774.3 348.0 774.6 346.0 775.0 343.1 775.4 339.7 775.7 336.3 776.1 333.4 776.5 331.4 776.8 330.7 777.2 331.4 777.6 333.3 778.0 336.2 778.4 339.6 778.8 343.0 779.2 345.9 779.6 347.8 779.9 348.5 780.3 348.4 780.7 348.3 781.0 348.0 781.4 347.7 781.8 347.5 782.1 347.2 782.5 347.1 782.9 347.0 783.5 344.1 784.1 335.7 784.7 323.2 785.3 308.5 785.9 293.8 786.5 281.3 787.2 273.0 787.8 270.1 788.7 271.8 789.7 276.7 790.7 284.0 791.7 292.6 792.6 301.3 793.6 308.6 794.6 313.5 795.6 315.2 796.2 315.0 796.8 314.5 797.4 313.8 798.0 313.0 798.6 312.2 799.2 311.5 799.9 311.0 800.5 310.8 801.2 311.0 801.9 311.5 802.7 312.2 803.4 313.0 804.1 313.8 804.9 314.5 805.6 315.0 806.3 315.2 807.1 315.0 807.8 314.3 808.5 313.4 809.3 312.3 810.0 311.2 810.7 310.2 811.5 309.6 812.2 309.4 813.0 309.6 813.8 310.3 814.6 311.4 815.4 312.6 816.2 313.8 817.0 314.8 817.8 315.5 818.5 315.8 819.2 315.6 819.8 315.0 820.4 314.2 821.0 313.3 821.6 312.4 822.2 311.6 822.8 311.0 823.4 310.8 824.0 311.0 824.7 311.5 825.3 312.2 825.9 313.0 826.5 313.8 827.1 314.5 827.7 315.0 828.3 315.2 829.1 313.4 829.9 308.2 830.7 300.4 831.5 291.3 832.3 282.1 833.1 274.4 833.9 269.2 834.7 267.4 835.8 268.8 836.9 272.7 838.0 278.7 839.1 285.7 840.2 292.6 841.3 298.6 842.4 302.5 843.5 303.9 846.0 303.9 848.5 303.9 851.0 303.9 853.5 303.9 856.0 303.9 858.5 303.9 861.0 303.9 863.5 303.9 864.7 302.8 866.0 299.5 867.2 294.6 868.4 288.9 869.6 283.1 870.9 278.2 872.1 275.0 873.3 273.8 875.8 275.3 878.3 279.5 880.8 285.7 883.3 293.1 885.8 300.4 888.3 306.7 890.8 310.8 893.3 312.3 893.9 312.3 894.4 312.4 895.0 312.6 895.5 312.7 896.1 312.9 896.6 313.0 897.2 313.1 897.7 313.2 898.0 313.1 898.3 312.8 898.6 312.4 898.9 312.0 899.2 311.6 899.5 311.2 899.9 310.9 900.2 310.8 900.5 310.3 900.8 308.9 901.1 306.8 901.4 304.3 901.7 301.8 902.0 299.7 902.3 298.3 902.6 297.8 902.8 296.8 903.1 293.8 903.3 289.3 903.6 284.1 903.8 278.8 904.1 274.4 904.3 271.4 904.6 270.3 904.9 269.4 905.2 266.5 905.5 262.3 905.8 257.3 906.1 252.3 906.4 248.1 906.7 245.3 907.0 244.3 907.5 241.9 908.1 235.0 908.6 224.7 909.2 212.5 909.7 200.3 910.3 190.0 910.8 183.1 911.3 180.7 912.0 178.1 912.6 170.7 913.2 159.7 913.8 146.7 914.4 133.7 915.0 122.7 915.7 115.3 916.3 112.7 916.9 111.0 917.5 106.3 918.1 99.2 918.8 90.9 919.4 82.5 920.0 75.4 920.6 70.7 921.2 69.0 921.8 68.3 922.4 66.2 922.9 63.1 923.5 59.5 924.1 55.8 924.7 52.7 925.2 50.7 925.8 49.9 926.1 49.5 926.5 48.1 926.8 46.1 927.2 43.7 927.5 41.3 927.8 39.3 928.2 38.0 928.5 37.5 928.8 38.0 929.2 39.3 929.5 41.3 929.8 43.7 930.2 46.1 930.5 48.1 930.9 49.5 931.2 49.9 931.8 50.7 932.3 52.7 932.9 55.8 933.5 59.5 934.1 63.1 934.6 66.2 935.2 68.3 935.8 69.0 936.4 70.7 937.0 75.4 937.6 82.5 938.2 90.9 938.9 99.2 939.5 106.3 940.1 111.0 940.7 112.7 941.3 115.3 942.0 122.7 942.6 133.7 943.2 146.7 943.8 159.7 944.4 170.7 945.0 178.1 945.7 180.7 946.2 183.1 946.7 190.0 947.3 200.3 947.8 212.5 948.4 224.7 948.9 235.0 949.5 241.9 950.0 244.3 950.3 245.3 950.6 248.1 950.9 252.3 951.2 257.3 951.5 262.3 951.8 266.5 952.1 269.4 952.4 270.3 952.7 271.4 952.9 274.4 953.2 278.8 953.4 284.1 953.7 289.3 953.9 293.8 954.2 296.8 954.4 297.8 954.7 298.3 955.0 299.7 955.3 301.8 955.6 304.3 955.9 306.8 956.2 308.9 956.5 310.3 956.8 310.8 957.1 310.9 957.5 311.2 957.8 311.6 958.1 312.0 958.4 312.4 958.7 312.8 959.0 313.1 959.3 313.2 959.8 313.1 960.4 313.0 960.9 312.9 961.5 312.7 962.0 312.6 962.6 312.4 963.1 312.3 963.7 312.3 966.2 310.8 968.7 306.7 971.2 300.4 973.7 293.1 976.2 285.7 978.7 279.5 981.2 275.3 983.7 273.8 984.9 275.0 986.1 278.2 987.4 283.1 988.6 288.9 989.8 294.6 991.0 299.5 992.3 302.8 993.5 303.9 996.0 303.9 998.5 303.9 1001.0 303.9 1003.5 303.9 1006.0 303.9 1008.5 303.9 1011.0 303.9 1013.5 303.9 1014.6 302.5 1015.7 298.6 1016.8 292.6 1017.9 285.7 1019.0 278.7 1020.1 272.7 1021.2 268.8 1022.3 267.4 1023.1 269.2 1023.9 274.4 1024.7 282.1 1025.5 291.3 1026.3 300.4 1027.1 308.2 1027.9 313.4 1028.7 315.2 1029.3 315.0 1029.9 314.5 1030.5 313.8 1031.1 313.0 1031.7 312.2 1032.3 311.5 1033.0 311.0 1033.6 310.8 1034.2 311.0 1034.8 311.6 1035.4 312.4 1036.0 313.3 1036.6 314.2 1037.2 315.0 1037.8 315.6 1038.5 315.8 1039.2 315.5 1040.0 314.8 1040.8 313.8 1041.6 312.6 1042.4 311.4 1043.2 310.3 1044.0 309.6 1044.8 309.4 1045.5 309.6 1046.3 310.2 1047.0 311.2 1047.7 312.3 1048.5 313.4 1049.2 314.3 1049.9 315.0 1050.7 315.2 1051.4 315.0 1052.1 314.5 1052.9 313.8 1053.6 313.0 1054.3 312.2 1055.1 311.5 1055.8 311.0 1056.5 310.8 1057.1 311.0 1057.8 311.5 1058.4 312.2 1059.0 313.0 1059.6 313.8 1060.2 314.5 1060.8 315.0 1061.4 315.2 1062.4 313.5 1063.4 308.6 1064.4 301.3 1065.3 292.6 1066.3 284.0 1067.3 276.7 1068.3 271.8 1069.2 270.1 1069.8 273.0 1070.5 281.3 1071.1 293.8 1071.7 308.5 1072.3 323.2 1072.9 335.7 1073.5 344.1 1074.1 347.0 1074.5 347.1 1074.9 347.2 1075.2 347.5 1075.6 347.7 1076.0 348.0 1076.3 348.3 1076.7 348.4 1077.1 348.5 1077.4 347.8 1077.8 345.9 1078.2 343.0 1078.6 339.6 1079.0 336.2 1079.4 333.3 1079.8 331.4 1080.2 330.7 1080.5 331.4 1080.9 333.4 1081.3 336.3 1081.6 339.7 1082.0 343.1 1082.4 346.0 1082.7 348.0 1083.1 348.7 1083.4 347.8 1083.8 345.3 1084.1 341.5 1084.4 337.1 1084.7 332.7 1085.0 328.9 1085.4 326.4 1085.7 325.6 1086.1 326.4 1086.6 328.7 1087.0 332.2 1087.5 336.4 1087.9 340.5 1088.4 344.0 1088.8 346.3 1089.3 347.2 1089.7 346.5 1090.1 344.5 1090.6 341.5 1091.0 337.9 1091.4 334.4 1091.9 331.4 1092.3 329.4 1092.7 328.7 1093.1 329.4 1093.5 331.6 1093.9 334.8 1094.3 338.5 1094.7 342.3 1095.1 345.5 1095.5 347.6 1095.9 348.4 1096.2 347.7 1096.5 345.8 1096.9 342.9 1097.2 339.5 1097.5 336.2 1097.9 333.3 1098.2 331.4 1098.5 330.7 1098.9 331.3 1099.2 333.1 1099.6 335.7 1099.9 338.8 1100.3 341.9 1100.6 344.5 1100.9 346.3 1101.3 346.9 1101.7 345.8 1102.2 342.7 1102.6 338.1 1103.0 332.7 1103.5 327.3 1103.9 322.7 1104.3 319.6 1104.8 318.5 1105.2 319.7 1105.7 322.9 1106.1 327.8 1106.5 333.6 1107.0 339.3 1107.4 344.2 1107.8 347.4 1108.3 348.6 1108.6 347.6 1109.0 344.6 1109.3 340.3 1109.7 335.1 1110.0 330.0 1110.4 325.6 1110.8 322.7 1111.1 321.7 1111.9 319.8 1112.7 314.4 1113.5 306.3 1114.4 296.7 1115.2 287.2 1116.0 279.1 1116.8 273.7 1117.6 271.8 1118.0 274.7 1118.5 282.8 1118.9 295.0 1119.3 309.4 1119.8 323.8 1120.2 336.0 1120.6 344.1 1121.0 347.0 1121.4 347.0 1121.8 347.1 1122.1 347.2 1122.5 347.3 1122.9 347.4 1123.2 347.5 1123.6 347.6 1124.0 347.6 1124.6 346.8 1125.3 344.6 1125.9 341.2 1126.5 337.2 1127.2 333.3 1127.8 329.9 1128.5 327.7 1129.1 326.9 1129.8 327.7 1130.5 329.8 1131.3 333.0 1132.0 336.9 1132.7 340.7 1133.4 343.9 1134.1 346.1 1134.8 346.8 1135.5 346.0 1136.2 343.5 1136.9 339.7 1137.6 335.3 1138.4 330.9 1139.1 327.1 1139.8 324.6 1140.5 323.8 1141.0 324.7 1141.5 327.3 1142.0 331.2 1142.5 335.9 1143.1 340.5 1143.6 344.4 1144.1 347.0 1144.6 347.9 1145.4 347.2 1146.1 345.1 1146.9 341.9 1147.6 338.2 1148.4 334.5 1149.2 331.4 1149.9 329.2 1150.7 328.5 1151.4 329.3 1152.2 331.5 1152.9 334.8 1153.6 338.6 1154.4 342.5 1155.1 345.8 1155.9 348.0 1156.6 348.8 1157.3 348.3 1157.9 346.8 1158.5 344.7 1159.2 342.1 1159.8 339.6 1160.4 337.4 1161.1 336.0 1161.7 335.5 1162.3 336.0 1163.0 337.3 1163.6 339.3 1164.3 341.6 1164.9 343.9 1165.6 345.9 1166.3 347.2 1166.9 347.7 1167.4 347.2 1167.9 346.0 1168.5 344.1 1169.0 341.8 1169.5 339.6 1170.0 337.7 1170.5 336.4 1171.0 336.0 1172.2 334.6 1173.3 330.4 1174.5 324.2 1175.6 316.9 1176.7 309.6 1177.9 303.4 1179.0 299.3 1180.2 297.8 1180.6 296.7 1181.0 293.5 1181.4 288.8 1181.9 283.2 1182.3 277.6 1182.7 272.9 1183.2 269.7 1183.6 268.6 1184.2 269.0 1184.8 269.9 1185.4 271.4 1186.0 273.1 1186.6 274.8 1187.3 276.3 1187.9 277.2 1188.5 277.6 1189.1 277.3 1189.7 276.5 1190.3 275.3 1190.9 274.0 1191.5 272.6 1192.1 271.4 1192.7 270.6 1193.4 270.3 1194.0 270.6 1194.6 271.4 1195.2 272.6 1195.8 274.0 1196.4 275.3 1197.0 276.5 1197.6 277.3 1198.2 277.6 1198.9 277.3 1199.5 276.5 1200.1 275.3 1200.7 274.0 1201.3 272.6 1201.9 271.4 1202.5 270.6 1203.1 270.3 1203.7 270.6 1204.4 271.4 1205.0 272.6 1205.6 274.0 1206.2 275.3 1206.8 276.5 1207.4 277.3 1208.0 277.6 1208.6 277.3 1209.2 276.5 1209.9 275.3 1210.5 274.0 1211.1 272.6 1211.7 271.4 1212.3 270.6 1212.9 270.3 1213.5 270.6 1214.1 271.4 1214.7 272.6 1215.3 274.0 1216.0 275.3 1216.6 276.5 1217.2 277.3 1217.8 277.6 1218.4 277.3 1219.0 276.5 1219.6 275.3 1220.2 274.0 1220.8 272.6 1221.5 271.4 1222.1 270.6 1222.7 270.3 1223.3 270.6 1223.9 271.4 1224.5 272.6 1225.1 274.0 1225.7 275.3 1226.3 276.5 1227.0 277.3 1227.6 277.6 1228.2 277.3 1228.8 276.5 1229.4 275.3 1230.0 274.0 1230.6 272.6 1231.2 271.4 1231.8 270.6 1232.5 270.3 1233.1 270.6 1233.7 271.4 1234.3 272.6 1234.9 274.0 1235.5 275.3 1236.1 276.5 1236.7 277.3 1237.3 277.6 1238.0 277.3 1238.6 276.5 1239.2 275.3 1239.8 274.0 1240.4 272.6 1241.0 271.4 1241.6 270.6 1242.2 270.3 1242.4 270.6 1242.6 271.4 1242.8 272.6 1243.0 274.0 1243.1 275.3 1243.3 276.5 1243.5 277.3 1243.7 277.6 1244.1 277.5 1244.5 277.2 1245.0 276.7 1245.4 276.1 1245.8 275.6 1246.3 275.1 1246.7 274.8 1247.1 274.7 1247.8 293.1 1248.5 311.6 1249.1 330.0 1249.8 348.4 1250.5 366.9 1251.1 385.3 1251.8 403.8 1252.5 422.2 1253.8 419.2 1255.1 410.8 1256.3 398.1 1257.6 383.2 1258.9 368.2 1260.2 355.5 1261.5 347.1 1262.8 344.1 1263.7 346.7 1264.7 354.3 1265.7 365.5 1266.7 378.8 1267.6 392.1 1268.6 403.4 1269.6 410.9 1270.6 413.5 1271.3 412.6 1272.0 410.1 1272.8 406.4 1273.5 402.0 1274.2 397.5 1275.0 393.8 1275.7 391.3 1276.4 390.4 1277.4 393.2 1278.4 401.4 1279.4 413.6 1280.3 428.0 1281.3 442.4 1282.3 454.6 1283.3 462.7 1284.3 465.6 1285.0 485.8 1285.7 506.1 1286.5 526.3 1287.2 546.6 1287.9 566.8 1288.6 587.1 1289.4 607.3 1290.1 627.6 1290.4 604.8 1290.7 582.1 1291.0 559.3 1291.3 536.6 1291.6 513.8 1291.9 491.0 1292.3 468.3 1292.6 445.5 1293.6 467.9 1294.6 490.3 1295.6 512.8 1296.7 535.2 1297.7 557.6 1298.7 580.0 1299.8 602.4 1300.8 624.8 1301.8 604.3 1302.8 583.8 1303.8 563.3 1304.9 542.8 1305.9 522.4 1306.9 501.9 1307.9 481.4 1308.9 460.9 1309.8 481.6 1310.6 502.2 1311.4 522.9 1312.2 543.5 1313.1 564.2 1313.9 584.8 1314.7 605.5 1315.5 626.2 1316.5 603.7 1317.6 581.2 1318.6 558.8 1319.6 536.3 1320.6 513.9 1321.6 491.4 1322.6 469.0 1323.6 446.5 1324.6 468.8 1325.6 491.2 1326.6 513.5 1327.5 535.9 1328.5 558.2 1329.5 580.5 1330.5 602.9 1331.4 625.2 1332.4 602.7 1333.3 580.2 1334.2 557.7 1335.2 535.3 1336.1 512.8 1337.0 490.3 1338.0 467.8 1338.9 445.3 1340.0 468.2 1341.2 491.0 1342.3 513.9 1343.4 536.8 1344.5 559.7 1345.6 582.6 1346.8 605.4 1347.9 628.3 1348.9 605.9 1350.0 583.4 1351.0 561.0 1352.1 538.5 1353.1 516.1 1354.1 493.6 1355.2 471.2 1356.2 448.8 1357.1 471.0 1358.0 493.3 1358.9 515.6 1359.8 537.9 1360.7 560.2 1361.6 582.5 1362.5 604.8 1363.4 627.1 1364.6 606.3 1365.8 585.5 1366.9 564.7 1368.1 544.0 1369.2 523.2 1370.4 502.4 1371.5 481.6 1372.7 460.8 1373.8 481.4 1375.0 502.1 1376.1 522.7 1377.3 543.4 1378.4 564.0 1379.6 584.7 1380.7 605.3 1381.9 626.0 1382.4 626.0 1382.9 626.2 1383.4 626.5 1383.9 626.8 1384.4 627.1 1384.9 627.3 1385.4 627.5 1385.9 627.6 1386.5 606.2 1387.1 584.9 1387.7 563.6 1388.3 542.2 1388.9 520.9 1389.6 499.6 1390.2 478.2 1390.8 456.9 1391.1 451.4 1391.5 435.7 1391.9 412.3 1392.2 384.6 1392.6 356.9 1393.0 333.5 1393.3 317.8 1393.7 312.3 1394.7 310.7 1395.7 306.2 1396.8 299.5 1397.8 291.6 1398.8 283.7 1399.8 277.0 1400.8 272.5 1401.8 270.9 1403.1 271.5 1404.4 273.2 1405.7 275.7 1407.1 278.6 1408.4 281.5 1409.7 284.0 1411.0 285.7 1412.3 286.3 1412.6 290.0 1413.0 300.7 1413.4 316.6 1413.7 335.4 1414.1 354.2 1414.5 370.2 1414.8 380.9 1415.2 384.6 1416.0 387.0 1416.8 393.9 1417.6 404.2 1418.4 416.4 1419.2 428.6 1420.0 438.9 1420.8 445.8 1421.6 448.2 1435.3 285.4 1447.5 448.2 1457.2 346.1 1480.2 445.3 1492.9 321.0 1504.2 451.1 1513.9 347.0 1533.0 451.1 1552.5 339.5 1566.0 420.0 1578.0 380.0 1584.0 360.0 1587.0 424.4 1589.8 488.9 1592.2 553.3 1594.2 617.7 1596.0 682.1 1597.6 746.6 1598.8 811.0 1599.8 875.4 1600.6 939.9 1601.2 1004.3 1601.6 1068.7 1601.9 1133.1 1602.0 1194.5M1602.0 1194.5 1602.1 1144.6 1602.2 1085.9 1602.3 1027.1 1602.6 968.4 1603.0 909.7 1603.4 851.0 1604.0 792.3 1604.7 733.6 1605.4 674.9 1606.4 616.1 1607.4 557.4 1608.6 498.7 1610.0 440.0 1614.6 498.7 1618.6 557.4 1622.2 616.1 1625.4 674.9 1628.1 733.6 1630.3 792.3 1632.2 851.0 1633.8 909.7 1634.9 968.4 1635.8 1027.1 1636.4 1085.9 1636.8 1144.6 1636.9 1194.5M1637.0 1194.5 1637.1 1146.0 1637.2 1088.0 1637.4 1030.0 1637.7 972.0 1638.1 914.0 1638.6 856.0 1639.2 798.0 1640.0 740.0 1640.9 682.0 1641.9 624.0 1643.1 566.0 1644.5 508.0 1646.0 450.0 1655.0 420.0 1659.0 600.0 1662.0 930.0" stroke="#D95319" stroke-width="9.7" stroke-linejoin="round" stroke-linecap="butt" stroke-dasharray="28 6 14 6"/>
</g>
<rect x="1046.3" y="33.6" width="618.2" height="526.6999999999999" fill="#fff"/>
<path d="M1119.3 33.6V560.3M1277.3 33.6V560.3M1435.3 33.6V560.3M1593.3 33.6V560.3M1046.3 114.3H1664.5M1046.3 236.0H1664.5M1046.3 357.7H1664.5M1046.3 479.4H1664.5" stroke="#dfdfdf" stroke-width="2.6" fill="none"/>
<path d="M1119.3 560.3v-7M1119.3 33.6v7M1277.3 560.3v-7M1277.3 33.6v7M1435.3 560.3v-7M1435.3 33.6v7M1593.3 560.3v-7M1593.3 33.6v7M1046.3 114.3h7M1664.5 114.3h-7M1046.3 236.0h7M1664.5 236.0h-7M1046.3 357.7h7M1664.5 357.7h-7M1046.3 479.4h7M1664.5 479.4h-7" stroke="#262626" stroke-width="2.7" fill="none"/>
<rect x="1046.3" y="33.6" width="618.2" height="526.6999999999999" stroke="#262626" stroke-width="2.7" fill="none"/>
<g clip-path="url(#ci)" fill="none">
<path d="M961.8 308.2 966.1 308.2 970.3 308.2 974.6 308.2 978.8 308.2 983.1 308.2 987.3 308.2 991.6 308.2 993.0 300.7 994.3 279.2 995.7 247.2 997.1 209.4 998.5 171.5 999.8 139.5 1001.2 118.0 1002.6 110.5 1004.1 116.2 1005.6 132.6 1007.1 157.0 1008.6 185.8 1010.1 214.7 1011.6 239.1 1013.1 255.5 1014.6 261.2 1017.6 261.2 1020.6 261.2 1023.7 261.2 1026.7 261.2 1029.7 261.2 1032.8 261.2 1035.8 261.2 1038.8 261.2 1040.1 256.3 1041.4 242.2 1042.7 221.1 1044.0 196.3 1045.4 171.5 1046.7 150.4 1048.0 136.3 1049.3 131.4 1052.7 137.8 1056.1 156.0 1059.6 183.2 1063.0 215.3 1066.4 247.5 1069.8 274.7 1073.2 292.9 1076.6 299.3 1077.5 299.3 1078.4 299.3 1079.3 299.3 1080.2 299.3 1081.1 299.3 1082.0 299.3 1082.9 299.3 1083.8 299.3 1084.2 298.5 1084.6 296.3 1085.1 292.9 1085.5 288.9 1086.0 285.0 1086.4 281.6 1086.9 279.4 1087.3 278.6 1087.6 274.7 1087.9 263.4 1088.2 246.7 1088.5 226.9 1088.8 207.1 1089.1 190.3 1089.4 179.1 1089.7 175.2 1090.0 168.9 1090.3 151.1 1090.6 124.4 1090.9 93.0 1091.2 61.6 1091.5 34.9 1091.5 33.6M1147.1 33.6 1147.1 34.9 1147.4 61.6 1147.7 93.0 1148.0 124.4 1148.3 151.1 1148.6 168.9 1148.9 175.2 1149.2 179.1 1149.5 190.3 1149.8 207.1 1150.1 226.9 1150.4 246.7 1150.7 263.4 1151.0 274.7 1151.3 278.6 1151.7 279.4 1152.2 281.6 1152.6 285.0 1153.1 288.9 1153.5 292.9 1154.0 296.3 1154.4 298.5 1154.8 299.3 1155.7 299.3 1156.6 299.3 1157.5 299.3 1158.4 299.3 1159.3 299.3 1160.2 299.3 1161.1 299.3 1162.0 299.3 1165.4 292.9 1168.8 274.7 1172.2 247.5 1175.6 215.3 1179.0 183.2 1182.5 156.0 1185.9 137.8 1189.3 131.4 1190.6 136.3 1191.9 150.4 1193.2 171.5 1194.5 196.3 1195.9 221.1 1197.2 242.2 1198.5 256.3 1199.8 261.2 1202.8 261.2 1205.8 261.2 1208.9 261.2 1211.9 261.2 1214.9 261.2 1218.0 261.2 1221.0 261.2 1224.0 261.2 1225.5 255.5 1227.0 239.1 1228.5 214.7 1230.0 185.8 1231.5 157.0 1233.0 132.6 1234.5 116.2 1236.0 110.5 1237.4 118.0 1238.8 139.5 1240.1 171.5 1241.5 209.4 1242.9 247.2 1244.2 279.2 1245.6 300.7 1247.0 308.2 1251.2 308.2 1255.5 308.2 1259.8 308.2 1264.0 308.2 1268.2 308.2 1272.5 308.2 1276.8 308.2 1281.0 308.2 1282.6 300.9 1284.2 280.1 1285.9 248.9 1287.5 212.1 1289.1 175.3 1290.8 144.1 1292.4 123.3 1294.0 116.0 1294.5 128.3 1295.0 163.2 1295.4 215.4 1295.9 277.0 1296.4 338.6 1296.9 390.9 1297.4 425.8 1297.8 438.0 1299.2 438.0 1300.6 438.0 1302.0 438.0 1303.4 438.0 1304.8 438.0 1306.1 438.0 1307.5 438.0 1308.9 438.0 1309.6 435.0 1310.3 426.3 1311.0 413.2 1311.7 397.9 1312.4 382.5 1313.0 369.5 1313.7 360.8 1314.4 357.7 1315.0 360.8 1315.6 369.5 1316.2 382.5 1316.8 397.9 1317.4 413.2 1318.0 426.3 1318.6 435.0 1319.2 438.0 1319.8 435.4 1320.4 428.0 1320.9 417.0 1321.5 403.9 1322.1 390.9 1322.7 379.9 1323.3 372.5 1323.9 369.9 1324.4 372.5 1324.9 379.9 1325.4 390.9 1325.9 403.9 1326.4 417.0 1326.9 428.0 1327.4 435.4 1327.9 438.0 1328.3 434.1 1328.7 423.1 1329.0 406.5 1329.4 386.9 1329.8 367.3 1330.2 350.8 1330.6 339.7 1331.0 335.8 1331.8 339.8 1332.6 351.1 1333.4 368.1 1334.2 388.1 1335.0 408.2 1335.8 425.1 1336.5 436.5 1337.3 440.5 1338.0 438.2 1338.7 431.9 1339.4 422.4 1340.1 411.2 1340.8 400.1 1341.5 390.6 1342.2 384.3 1342.9 382.0 1343.6 384.4 1344.3 391.0 1344.9 400.8 1345.6 412.5 1346.3 424.1 1347.0 434.0 1347.7 440.6 1348.4 442.9 1349.0 430.6 1349.6 395.5 1350.2 343.0 1350.8 281.0 1351.4 219.1 1352.0 166.6 1352.5 131.5 1353.1 119.2 1353.7 131.6 1354.3 167.1 1354.9 220.2 1355.5 282.9 1356.1 345.5 1356.7 398.6 1357.3 434.1 1357.9 446.5 1358.5 446.7 1359.1 447.1 1359.7 447.6 1360.2 448.3 1360.8 449.0 1361.4 449.6 1362.0 450.0 1362.6 450.1 1363.2 446.5 1363.8 436.1 1364.4 420.7 1365.1 402.5 1365.7 384.2 1366.3 368.8 1366.9 358.4 1367.5 354.8 1368.2 358.4 1368.8 368.6 1369.5 383.9 1370.2 401.9 1370.9 419.9 1371.5 435.1 1372.2 445.3 1372.9 448.9 1373.5 446.3 1374.1 438.7 1374.7 427.4 1375.3 414.0 1375.9 400.6 1376.5 389.3 1377.1 381.7 1377.7 379.0 1378.4 381.5 1379.0 388.5 1379.7 399.0 1380.3 411.4 1381.0 423.8 1381.6 434.3 1382.3 441.3 1382.9 443.7 1383.4 442.2 1383.9 438.0 1384.4 431.7 1384.9 424.2 1385.5 416.7 1386.0 410.4 1386.5 406.1 1387.0 404.7 1387.7 406.3 1388.4 410.9 1389.1 417.8 1389.8 425.9 1390.4 434.1 1391.1 441.0 1391.8 445.6 1392.5 447.2 1393.2 445.6 1393.9 441.2 1394.5 434.6 1395.2 426.7 1395.9 418.9 1396.6 412.2 1397.2 407.8 1397.9 406.3 1398.5 407.7 1399.1 411.8 1399.7 418.0 1400.3 425.3 1400.9 432.6 1401.5 438.8 1402.1 442.9 1402.7 444.4 1403.2 440.7 1403.7 430.4 1404.3 414.9 1404.8 396.6 1405.4 378.3 1405.9 362.8 1406.5 352.5 1407.0 348.9 1407.7 352.8 1408.4 363.8 1409.1 380.4 1409.8 400.0 1410.5 419.6 1411.2 436.1 1412.0 447.2 1412.7 451.1 1413.2 448.2 1413.6 439.7 1414.1 427.1 1414.6 412.3 1415.1 397.4 1415.6 384.8 1416.1 376.4 1416.6 373.4 1417.6 376.1 1418.5 383.6 1419.5 394.9 1420.4 408.2 1421.4 421.5 1422.3 432.7 1423.3 440.2 1424.2 442.9 1424.8 430.8 1425.4 396.6 1426.0 345.2 1426.6 284.7 1427.2 224.1 1427.8 172.8 1428.4 138.5 1429.0 126.5 1429.6 126.0 1430.2 124.5 1430.8 122.3 1431.3 119.8 1431.9 117.2 1432.5 115.0 1433.1 113.6 1433.7 113.1 1434.6 113.9 1435.4 116.1 1436.2 119.5 1437.1 123.4 1437.9 127.4 1438.8 130.7 1439.6 133.0 1440.4 133.8 1441.3 133.1 1442.1 131.3 1443.0 128.5 1443.8 125.3 1444.6 122.0 1445.5 119.2 1446.3 117.4 1447.2 116.7 1448.0 117.4 1448.8 119.2 1449.7 122.0 1450.5 125.3 1451.3 128.5 1452.2 131.3 1453.0 133.1 1453.9 133.8 1454.7 133.1 1455.5 131.3 1456.4 128.5 1457.2 125.3 1458.1 122.0 1458.9 119.2 1459.7 117.4 1460.6 116.7 1461.4 117.4 1462.3 119.2 1463.1 122.0 1463.9 125.3 1464.8 128.5 1465.6 131.3 1466.5 133.1 1467.3 133.8 1468.1 133.1 1469.0 131.3 1469.8 128.5 1470.7 125.3 1471.5 122.0 1472.3 119.2 1473.2 117.4 1474.0 116.7 1474.8 117.4 1475.7 119.2 1476.5 122.0 1477.4 125.3 1478.2 128.5 1479.0 131.3 1479.9 133.1 1480.7 133.8 1481.6 133.1 1482.4 131.3 1483.2 128.5 1484.1 125.3 1484.9 122.0 1485.8 119.2 1486.6 117.4 1487.4 116.7 1488.3 117.4 1489.1 119.2 1490.0 122.0 1490.8 125.3 1491.6 128.5 1492.5 131.3 1493.3 133.1 1494.2 133.8 1495.0 133.1 1495.8 131.3 1496.7 128.5 1497.5 125.3 1498.4 122.0 1499.2 119.2 1500.0 117.4 1500.9 116.7 1501.6 117.4 1502.3 119.2 1502.9 122.0 1503.6 125.3 1504.3 128.5 1505.0 131.3 1505.7 133.1 1506.4 133.8 1507.1 133.4 1507.8 132.3 1508.5 130.8 1509.2 128.9 1509.9 127.0 1510.5 125.5 1511.2 124.4 1511.9 124.0 1513.2 201.9 1514.5 279.8 1515.8 357.7 1517.1 435.6 1518.3 513.5 1519.1 560.3M1529.5 560.3 1530.6 520.0 1532.3 466.7 1534.0 431.1 1535.6 418.6 1537.9 441.7 1540.2 507.7 1541.4 560.3M1700.8 560.3 1700.9 553.2 1703.5 409.7 1706.1 266.3 1708.6 122.8 1711.3 217.6 1714.0 312.4 1716.6 407.1 1719.3 501.9 1720.9 560.3M1739.5 560.3 1740.6 520.8 1743.3 430.7 1746.0 340.7 1748.6 250.6 1751.3 160.5" stroke="#0072BD" stroke-width="9.7" stroke-linejoin="round" stroke-linecap="round"/>
<path d="M962.1 307.8 964.9 307.8 967.6 307.8 970.4 307.8 973.1 307.8 975.9 307.8 978.7 307.8 981.4 307.8 984.2 307.8 985.7 300.4 987.2 279.3 988.7 247.7 990.2 210.4 991.6 173.1 993.1 141.5 994.6 120.4 996.1 113.0 998.7 118.5 1001.2 134.2 1003.8 157.7 1006.3 185.5 1008.9 213.2 1011.5 236.7 1014.0 252.4 1016.6 257.9 1019.1 257.9 1021.5 257.9 1024.0 257.9 1026.5 257.9 1028.9 257.9 1031.4 257.9 1033.9 257.9 1036.3 257.9 1037.8 253.2 1039.2 239.7 1040.6 219.5 1042.0 195.8 1043.4 172.0 1044.8 151.8 1046.2 138.3 1047.6 133.6 1050.9 139.8 1054.3 157.5 1057.6 184.0 1060.9 215.2 1064.3 246.5 1067.6 272.9 1070.9 290.6 1074.3 296.9 1075.0 296.9 1075.7 296.9 1076.3 296.9 1077.0 296.9 1077.7 296.9 1078.4 296.9 1079.1 296.9 1079.8 296.9 1080.3 295.9 1080.8 293.3 1081.3 289.3 1081.8 284.7 1082.3 280.0 1082.8 276.1 1083.3 273.4 1083.8 272.5 1084.1 268.3 1084.4 256.5 1084.8 238.7 1085.1 217.7 1085.5 196.8 1085.8 179.0 1086.2 167.1 1086.5 163.0 1086.8 157.2 1087.1 140.7 1087.4 116.0 1087.7 86.9 1088.0 57.8 1088.3 33.6M1150.3 33.6 1150.6 57.8 1150.9 86.9 1151.2 116.0 1151.5 140.7 1151.8 157.2 1152.1 163.0 1152.4 167.1 1152.8 179.0 1153.1 196.8 1153.5 217.7 1153.8 238.7 1154.2 256.5 1154.5 268.3 1154.8 272.5 1155.3 273.4 1155.8 276.1 1156.3 280.0 1156.8 284.7 1157.3 289.3 1157.8 293.3 1158.3 295.9 1158.8 296.9 1159.5 296.9 1160.2 296.9 1160.9 296.9 1161.6 296.9 1162.3 296.9 1162.9 296.9 1163.6 296.9 1164.3 296.9 1167.7 290.6 1171.0 272.9 1174.3 246.5 1177.7 215.2 1181.0 184.0 1184.3 157.5 1187.7 139.8 1191.0 133.6 1192.4 138.3 1193.8 151.8 1195.2 172.0 1196.6 195.8 1198.0 219.5 1199.4 239.7 1200.8 253.2 1202.2 257.9 1204.7 257.9 1207.2 257.9 1209.7 257.9 1212.1 257.9 1214.6 257.9 1217.1 257.9 1219.5 257.9 1222.0 257.9 1224.6 252.4 1227.1 236.7 1229.7 213.2 1232.2 185.5 1234.8 157.7 1237.4 134.2 1239.9 118.5 1242.5 113.0 1244.0 120.4 1245.5 141.5 1247.0 173.1 1248.4 210.4 1249.9 247.7 1251.4 279.3 1252.9 300.4 1254.4 307.8 1257.2 307.8 1259.9 307.8 1262.7 307.8 1265.5 307.8 1268.2 307.8 1271.0 307.8 1273.7 307.8 1276.5 307.8 1280.1 301.0 1283.6 281.6 1287.2 252.6 1290.8 218.4 1294.3 184.2 1297.9 155.2 1301.4 135.8 1305.0 129.0 1305.8 141.1 1306.6 175.5 1307.4 227.0 1308.1 287.8 1308.9 348.5 1309.7 400.0 1310.5 434.5 1311.3 446.5 1312.0 446.4 1312.7 445.9 1313.3 445.2 1314.0 444.3 1314.7 443.5 1315.4 442.8 1316.1 442.3 1316.8 442.1 1317.3 438.1 1317.9 426.5 1318.4 409.3 1319.0 389.0 1319.5 368.7 1320.1 351.5 1320.6 339.9 1321.1 335.9 1321.6 340.3 1322.0 352.7 1322.5 371.3 1322.9 393.2 1323.4 415.2 1323.8 433.8 1324.3 446.2 1324.7 450.6 1325.3 446.6 1326.0 435.3 1326.6 418.4 1327.2 398.4 1327.8 378.4 1328.4 361.5 1329.0 350.2 1329.6 346.2 1330.2 350.1 1330.8 361.2 1331.4 377.8 1332.0 397.3 1332.5 416.9 1333.1 433.4 1333.7 444.5 1334.3 448.4 1334.9 444.8 1335.4 434.4 1336.0 418.8 1336.6 400.5 1337.1 382.1 1337.7 366.5 1338.3 356.2 1338.8 352.5 1339.4 356.2 1339.9 366.8 1340.5 382.6 1341.1 401.2 1341.6 419.8 1342.2 435.6 1342.7 446.2 1343.3 449.9 1343.8 446.6 1344.4 437.1 1344.9 423.0 1345.4 406.4 1345.9 389.7 1346.5 375.6 1347.0 366.2 1347.5 362.9 1348.1 365.9 1348.7 374.4 1349.3 387.2 1349.9 402.3 1350.5 417.4 1351.1 430.2 1351.7 438.7 1352.3 441.7 1352.9 438.4 1353.5 429.1 1354.2 415.1 1354.8 398.6 1355.5 382.1 1356.1 368.2 1356.7 358.8 1357.4 355.5 1358.4 346.8 1359.5 322.0 1360.5 284.8 1361.6 241.0 1362.6 197.2 1363.7 160.0 1364.7 135.2 1365.8 126.5 1366.4 138.5 1367.0 172.8 1367.6 224.1 1368.1 284.7 1368.7 345.2 1369.3 396.6 1369.9 430.8 1370.5 442.9 1371.2 443.1 1371.9 443.8 1372.6 444.8 1373.3 446.0 1374.0 447.2 1374.7 448.2 1375.4 448.9 1376.0 449.1 1376.7 446.0 1377.4 437.0 1378.0 423.6 1378.7 407.9 1379.3 392.1 1380.0 378.7 1380.7 369.8 1381.3 366.6 1381.9 369.6 1382.6 378.2 1383.2 391.0 1383.8 406.1 1384.4 421.2 1385.1 434.0 1385.7 442.5 1386.3 445.5 1387.0 443.9 1387.7 439.1 1388.4 432.0 1389.1 423.6 1389.8 415.2 1390.5 408.0 1391.1 403.3 1391.8 401.6 1392.4 403.2 1392.9 407.7 1393.4 414.5 1394.0 422.4 1394.5 430.4 1395.0 437.2 1395.6 441.7 1396.1 443.3 1396.7 441.2 1397.3 435.3 1397.9 426.6 1398.5 416.3 1399.1 405.9 1399.7 397.2 1400.2 391.3 1400.8 389.3 1401.6 391.5 1402.4 397.7 1403.2 407.0 1404.0 418.0 1404.8 429.1 1405.6 438.4 1406.4 444.6 1407.2 446.8 1407.9 444.0 1408.6 435.8 1409.4 423.6 1410.1 409.2 1410.9 394.8 1411.6 382.6 1412.4 374.5 1413.1 371.6 1413.8 374.6 1414.5 383.1 1415.2 395.8 1415.9 410.8 1416.6 425.8 1417.3 438.5 1418.0 447.0 1418.7 449.9 1419.4 445.9 1420.1 434.3 1420.8 416.9 1421.5 396.5 1422.2 376.0 1422.9 358.7 1423.5 347.1 1424.2 343.0 1424.9 346.8 1425.6 357.8 1426.2 374.2 1426.9 393.6 1427.6 413.0 1428.2 429.4 1428.9 440.3 1429.6 444.2 1430.3 442.6 1431.0 438.0 1431.7 431.1 1432.4 422.9 1433.1 414.8 1433.8 407.9 1434.5 403.3 1435.2 401.7 1436.8 390.8 1438.4 359.6 1440.0 313.0 1441.6 258.0 1443.2 203.0 1444.8 156.4 1446.3 125.2 1447.9 114.3 1448.8 115.5 1449.6 118.8 1450.5 123.7 1451.3 129.5 1452.1 135.3 1453.0 140.3 1453.8 143.6 1454.7 144.7 1455.5 143.8 1456.3 141.2 1457.2 137.2 1458.0 132.6 1458.9 127.9 1459.7 123.9 1460.5 121.3 1461.4 120.4 1462.2 121.3 1463.0 123.9 1463.9 127.9 1464.7 132.6 1465.6 137.2 1466.4 141.2 1467.2 143.8 1468.1 144.7 1468.9 143.8 1469.8 141.2 1470.6 137.2 1471.4 132.6 1472.3 127.9 1473.1 123.9 1474.0 121.3 1474.8 120.4 1475.6 121.3 1476.5 123.9 1477.3 127.9 1478.2 132.6 1479.0 137.2 1479.8 141.2 1480.7 143.8 1481.5 144.7 1482.4 143.8 1483.2 141.2 1484.0 137.2 1484.9 132.6 1485.7 127.9 1486.6 123.9 1487.4 121.3 1488.2 120.4 1489.1 121.3 1489.9 123.9 1490.7 127.9 1491.6 132.6 1492.4 137.2 1493.3 141.2 1494.1 143.8 1494.9 144.7 1495.8 143.8 1496.6 141.2 1497.5 137.2 1498.3 132.6 1499.1 127.9 1500.0 123.9 1500.8 121.3 1501.7 120.4 1502.5 121.3 1503.3 123.9 1504.2 127.9 1505.0 132.6 1505.9 137.2 1506.7 141.2 1507.5 143.8 1508.4 144.7 1509.2 143.8 1510.1 141.2 1510.9 137.2 1511.7 132.6 1512.6 127.9 1513.4 123.9 1514.3 121.3 1515.1 120.4 1515.9 121.3 1516.8 123.9 1517.6 127.9 1518.4 132.6 1519.3 137.2 1520.1 141.2 1521.0 143.8 1521.8 144.7 1522.6 143.8 1523.5 141.2 1524.3 137.2 1525.2 132.6 1526.0 127.9 1526.8 123.9 1527.7 121.3 1528.5 120.4 1529.2 121.3 1529.9 123.9 1530.6 127.9 1531.3 132.6 1532.0 137.2 1532.7 141.2 1533.4 143.8 1534.0 144.7 1534.8 144.5 1535.6 143.8 1536.4 142.8 1537.2 141.7 1538.0 140.5 1538.8 139.5 1539.6 138.9 1540.4 138.6 1541.7 234.5 1542.9 330.3 1544.2 426.2 1545.5 522.0 1546.0 560.3M1558.9 560.3 1560.1 500.2 1561.7 448.8 1563.3 430.7 1564.3 446.5 1565.3 491.3 1566.2 558.4 1566.3 560.3M1704.3 560.3 1704.9 490.8 1705.9 371.4 1706.9 252.0 1707.8 132.6 1710.3 213.9 1712.8 295.3 1715.3 376.7 1717.7 458.1 1720.2 539.5 1720.8 560.3M1733.0 560.3 1733.5 537.2 1735.5 455.1 1737.5 372.9 1739.4 290.8 1741.4 208.6 1743.4 126.5 1745.4 208.6 1747.3 290.8 1749.3 372.9 1751.3 455.1" stroke="#77AC30" stroke-width="9.7" stroke-linejoin="round" stroke-linecap="butt" stroke-dasharray="28 26"/>
<path d="M962.5 208.5 963.8 170.0 965.0 137.4 966.3 115.7 967.6 108.0 969.4 113.8 971.2 130.5 972.9 155.4 974.7 184.8 976.5 214.2 978.3 239.1 980.1 255.7 981.8 261.6 985.9 261.6 989.9 261.6 994.0 261.6 998.0 261.6 1002.1 261.6 1006.1 261.6 1010.2 261.6 1014.2 261.6 1016.2 256.7 1018.2 243.0 1020.2 222.5 1022.2 198.3 1024.1 174.1 1026.1 153.5 1028.1 139.8 1030.1 135.0 1034.1 141.2 1038.2 158.7 1042.2 185.0 1046.3 215.9 1050.3 246.9 1054.3 273.1 1058.4 290.7 1062.4 296.9 1063.3 297.0 1064.2 297.4 1065.1 298.0 1066.0 298.7 1066.9 299.4 1067.8 300.0 1068.6 300.4 1069.5 300.5 1070.0 300.1 1070.5 299.1 1071.0 297.5 1071.5 295.6 1072.0 293.8 1072.5 292.2 1073.0 291.1 1073.5 290.8 1074.0 288.7 1074.5 282.7 1075.0 273.9 1075.5 263.4 1075.9 252.9 1076.4 244.0 1076.9 238.1 1077.4 236.0 1077.8 231.6 1078.2 219.1 1078.6 200.3 1079.0 178.2 1079.4 156.1 1079.8 137.3 1080.2 124.8 1080.6 120.4 1081.1 116.2 1081.6 104.3 1082.1 86.6 1082.6 65.6 1083.1 44.7 1083.4 33.6M1155.2 33.6 1155.5 44.7 1156.0 65.6 1156.5 86.6 1157.0 104.3 1157.5 116.2 1158.0 120.4 1158.4 124.8 1158.8 137.3 1159.2 156.1 1159.6 178.2 1160.0 200.3 1160.4 219.1 1160.8 231.6 1161.2 236.0 1161.7 238.1 1162.2 244.0 1162.7 252.9 1163.1 263.4 1163.6 273.9 1164.1 282.7 1164.6 288.7 1165.1 290.8 1165.6 291.1 1166.1 292.2 1166.6 293.8 1167.1 295.6 1167.6 297.5 1168.1 299.1 1168.6 300.1 1169.1 300.5 1170.0 300.4 1170.8 300.0 1171.7 299.4 1172.6 298.7 1173.5 298.0 1174.4 297.4 1175.3 297.0 1176.2 296.9 1180.2 290.7 1184.3 273.1 1188.3 246.9 1192.3 215.9 1196.4 185.0 1200.4 158.7 1204.5 141.2 1208.5 135.0 1210.5 139.8 1212.5 153.5 1214.5 174.1 1216.4 198.3 1218.4 222.5 1220.4 243.0 1222.4 256.7 1224.4 261.6 1228.4 261.6 1232.5 261.6 1236.5 261.6 1240.6 261.6 1244.6 261.6 1248.7 261.6 1252.7 261.6 1256.8 261.6 1258.5 255.7 1260.3 239.1 1262.1 214.2 1263.9 184.8 1265.7 155.4 1267.4 130.5 1269.2 113.8 1271.0 108.0 1272.3 115.7 1273.6 137.4 1274.8 170.0 1276.1 208.5 1277.4 247.0 1278.7 279.6 1280.0 301.4 1281.2 309.0 1282.2 308.3 1283.2 306.3 1284.2 303.4 1285.2 299.9 1286.2 296.4 1287.2 293.4 1288.2 291.5 1289.1 290.8 1290.1 291.6 1291.1 293.8 1292.1 297.2 1293.1 301.1 1294.1 305.1 1295.1 308.4 1296.1 310.7 1297.0 311.5 1298.3 310.4 1299.6 307.5 1300.9 303.2 1302.2 298.1 1303.5 292.9 1304.8 288.6 1306.0 285.7 1307.3 284.7 1308.5 285.6 1309.7 288.2 1310.9 292.2 1312.1 296.9 1313.2 301.5 1314.4 305.5 1315.6 308.1 1316.8 309.0 1318.0 308.3 1319.2 306.3 1320.4 303.4 1321.5 299.9 1322.7 296.4 1323.9 293.4 1325.1 291.5 1326.3 290.8 1327.3 291.5 1328.3 293.4 1329.2 296.4 1330.2 299.9 1331.2 303.4 1332.2 306.3 1333.2 308.3 1334.2 309.0 1335.8 301.8 1337.3 281.2 1338.9 250.4 1340.5 214.1 1342.1 177.8 1343.7 147.0 1345.2 126.4 1346.8 119.2 1347.8 131.5 1348.8 166.6 1349.8 219.1 1350.8 281.0 1351.8 343.0 1352.7 395.5 1353.7 430.6 1354.7 442.9 1355.3 443.1 1355.9 443.8 1356.5 444.8 1357.1 446.0 1357.7 447.2 1358.3 448.2 1358.9 448.9 1359.5 449.1 1360.1 446.3 1360.7 438.2 1361.3 426.1 1362.0 411.8 1362.6 397.5 1363.2 385.4 1363.8 377.3 1364.5 374.5 1365.1 377.4 1365.7 385.5 1366.3 397.8 1366.9 412.2 1367.5 426.6 1368.1 438.9 1368.7 447.0 1369.3 449.9 1369.8 446.2 1370.3 435.7 1370.8 419.9 1371.3 401.3 1371.8 382.7 1372.4 366.9 1372.9 356.4 1373.4 352.7 1374.1 356.2 1374.9 366.0 1375.6 380.8 1376.3 398.2 1377.0 415.6 1377.8 430.3 1378.5 440.2 1379.2 443.6 1379.9 440.7 1380.6 432.2 1381.3 419.6 1382.0 404.7 1382.7 389.8 1383.4 377.2 1384.1 368.8 1384.8 365.8 1385.4 369.0 1386.0 378.0 1386.7 391.4 1387.3 407.3 1387.9 423.1 1388.6 436.6 1389.2 445.6 1389.8 448.7 1390.4 445.9 1390.9 437.8 1391.5 425.7 1392.0 411.5 1392.6 397.3 1393.1 385.2 1393.6 377.1 1394.2 374.3 1394.7 376.9 1395.3 384.3 1395.9 395.3 1396.4 408.3 1397.0 421.4 1397.5 432.4 1398.1 439.8 1398.6 442.4 1399.3 437.8 1400.0 424.9 1400.7 405.6 1401.5 382.8 1402.2 359.9 1402.9 340.6 1403.6 327.7 1404.3 323.1 1405.0 327.9 1405.7 341.6 1406.4 362.1 1407.1 386.3 1407.8 410.5 1408.5 431.0 1409.2 444.7 1409.9 449.5 1410.5 445.2 1411.0 432.9 1411.6 414.6 1412.2 392.9 1412.8 371.2 1413.4 352.8 1413.9 340.6 1414.5 336.3 1415.8 328.3 1417.1 305.5 1418.5 271.5 1419.8 231.4 1421.1 191.2 1422.4 157.2 1423.7 134.5 1425.0 126.5 1425.7 138.5 1426.4 172.8 1427.1 224.1 1427.8 284.7 1428.5 345.2 1429.2 396.6 1429.9 430.8 1430.6 442.9 1431.2 443.0 1431.7 443.2 1432.3 443.6 1432.9 444.1 1433.5 444.6 1434.1 445.0 1434.7 445.3 1435.3 445.3 1436.3 442.0 1437.4 432.6 1438.4 418.5 1439.4 401.8 1440.5 385.2 1441.5 371.0 1442.6 361.6 1443.6 358.3 1444.8 361.5 1445.9 370.6 1447.1 384.2 1448.2 400.3 1449.4 416.3 1450.6 429.9 1451.7 439.0 1452.9 442.2 1454.0 438.5 1455.1 428.0 1456.3 412.3 1457.4 393.7 1458.6 375.1 1459.7 359.3 1460.8 348.8 1462.0 345.1 1462.8 349.0 1463.6 360.0 1464.5 376.5 1465.3 396.0 1466.2 415.5 1467.0 432.0 1467.9 443.0 1468.7 446.9 1469.9 443.8 1471.1 434.9 1472.4 421.6 1473.6 406.0 1474.8 390.3 1476.0 377.1 1477.2 368.2 1478.5 365.1 1479.7 368.3 1480.9 377.6 1482.1 391.4 1483.3 407.7 1484.5 424.0 1485.7 437.8 1486.9 447.1 1488.1 450.3 1489.1 448.2 1490.1 442.1 1491.2 433.1 1492.2 422.4 1493.2 411.7 1494.2 402.6 1495.3 396.6 1496.3 394.5 1497.3 396.4 1498.4 402.0 1499.4 410.3 1500.5 420.1 1501.6 430.0 1502.6 438.3 1503.7 443.9 1504.7 445.8 1505.6 443.9 1506.4 438.6 1507.2 430.6 1508.1 421.2 1508.9 411.8 1509.7 403.8 1510.6 398.5 1511.4 396.6 1513.2 390.5 1515.1 373.1 1516.9 347.1 1518.8 316.3 1520.6 285.6 1522.5 259.5 1524.3 242.1 1526.2 236.0 1526.8 231.3 1527.5 218.0 1528.2 198.1 1528.9 174.5 1529.6 151.0 1530.3 131.1 1531.0 117.8 1531.7 113.1 1532.7 114.5 1533.7 118.6 1534.6 124.7 1535.6 131.9 1536.6 139.2 1537.6 145.3 1538.6 149.4 1539.6 150.8 1540.6 149.7 1541.6 146.4 1542.5 141.4 1543.5 135.6 1544.5 129.8 1545.5 124.8 1546.5 121.5 1547.5 120.4 1548.5 121.5 1549.5 124.8 1550.4 129.8 1551.4 135.6 1552.4 141.4 1553.4 146.4 1554.4 149.7 1555.4 150.8 1556.4 149.7 1557.4 146.4 1558.3 141.4 1559.3 135.6 1560.3 129.8 1561.3 124.8 1562.3 121.5 1563.3 120.4 1564.3 121.5 1565.3 124.8 1566.2 129.8 1567.2 135.6 1568.2 141.4 1569.2 146.4 1570.2 149.7 1571.2 150.8 1572.2 149.7 1573.2 146.4 1574.1 141.4 1575.1 135.6 1576.1 129.8 1577.1 124.8 1578.1 121.5 1579.1 120.4 1580.1 121.5 1581.1 124.8 1582.0 129.8 1583.0 135.6 1584.0 141.4 1585.0 146.4 1586.0 149.7 1587.0 150.8 1588.0 149.7 1589.0 146.4 1589.9 141.4 1590.9 135.6 1591.9 129.8 1592.9 124.8 1593.9 121.5 1594.9 120.4 1595.9 121.5 1596.9 124.8 1597.8 129.8 1598.8 135.6 1599.8 141.4 1600.8 146.4 1601.8 149.7 1602.8 150.8 1603.8 149.7 1604.8 146.4 1605.7 141.4 1606.7 135.6 1607.7 129.8 1608.7 124.8 1609.7 121.5 1610.7 120.4 1611.7 121.5 1612.7 124.8 1613.6 129.8 1614.6 135.6 1615.6 141.4 1616.6 146.4 1617.6 149.7 1618.6 150.8 1619.6 149.7 1620.6 146.4 1621.5 141.4 1622.5 135.6 1623.5 129.8 1624.5 124.8 1625.5 121.5 1626.5 120.4 1626.8 121.5 1627.1 124.8 1627.4 129.8 1627.7 135.6 1628.0 141.4 1628.3 146.4 1628.6 149.7 1628.8 150.8 1629.5 150.3 1630.2 149.0 1630.9 147.1 1631.6 144.7 1632.3 142.4 1633.0 140.4 1633.7 139.1 1634.4 138.6 1635.5 216.2 1636.6 293.8 1637.6 371.4 1638.7 449.0 1639.8 526.6 1640.3 560.3M1652.5 560.3 1653.4 532.1 1655.5 478.8 1657.6 443.2 1659.7 430.7 1661.2 441.8 1662.8 473.5 1664.4 520.9 1665.5 560.3" stroke="#D95319" stroke-width="9.7" stroke-linejoin="round" stroke-linecap="butt" stroke-dasharray="28 6 14 6"/>
</g>
<g font-family="Liberation Sans, Arial, Helvetica, sans-serif" font-size="40" fill="#262626">
<text x="1031.5" y="131.4" text-anchor="end">-8</text>
<text x="1031.5" y="253.1" text-anchor="end">-9</text>
<text x="1031.5" y="374.8" text-anchor="end">-10</text>
<text x="1031.5" y="496.5" text-anchor="end">-11</text>
<text x="1118.3" y="617.4" text-anchor="middle">0</text>
<text x="1276.3" y="617.4" text-anchor="middle">0.2</text>
<text x="1434.3" y="617.4" text-anchor="middle">0.4</text>
<text x="1592.3" y="617.4" text-anchor="middle">0.6</text>
</g>
<rect x="840.5" y="870.3" width="540.0" height="260.0" fill="#fff" stroke="#262626" stroke-width="2.9"/>
<path d="M853 917.9H989.2" stroke="#0072BD" stroke-width="9.7" stroke-linejoin="round" stroke-linecap="butt" fill="none"/>
<text transform="translate(999.0 941.9) scale(0.963 1)" font-family="Liberation Sans, Arial, Helvetica, sans-serif" font-size="67" fill="#000">Target at 0<tspan dx="4" dy="9.5" font-size="74">°</tspan></text>
<path d="M853 1000.5H989.2" stroke="#77AC30" stroke-width="9.7" stroke-linejoin="round" stroke-linecap="butt" stroke-dasharray="28 26" fill="none"/>
<text transform="translate(999.0 1024.5) scale(0.963 1)" font-family="Liberation Sans, Arial, Helvetica, sans-serif" font-size="67" fill="#000">Target at 20<tspan dx="4" dy="9.5" font-size="74">°</tspan></text>
<path d="M853 1084.2H989.2" stroke="#D95319" stroke-width="9.7" stroke-linejoin="round" stroke-linecap="butt" stroke-dasharray="28 6 14 6" fill="none"/>
<text transform="translate(999.0 1108.2) scale(0.963 1)" font-family="Liberation Sans, Arial, Helvetica, sans-serif" font-size="67" fill="#000">Target at 40<tspan dx="4" dy="9.5" font-size="74">°</tspan></text>
</svg>
</body></html>
